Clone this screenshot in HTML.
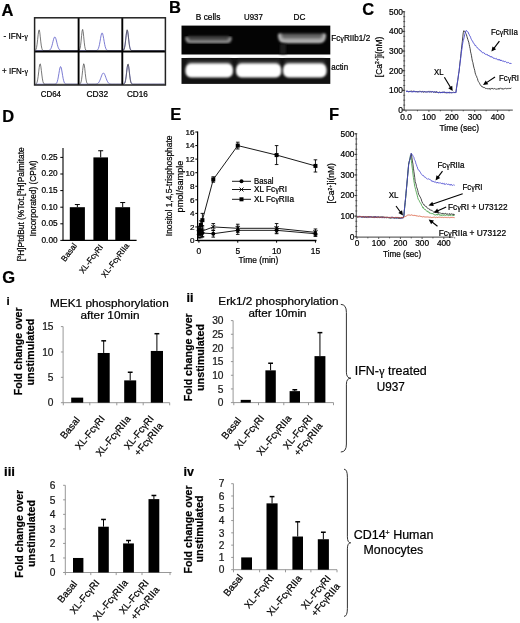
<!DOCTYPE html>
<html><head><meta charset="utf-8"><style>
html,body{margin:0;padding:0;background:#fff;}
svg{display:block;font-family:"Liberation Sans",sans-serif;will-change:transform;}
text{stroke:currentColor;stroke-width:0.22px;}
</style></head><body>
<svg width="520" height="623" viewBox="0 0 520 623">
<rect width="520" height="623" fill="#fff"/>
<text x="1.60" y="15.60" font-size="16.5" font-weight="bold">A</text>
<text x="169.00" y="13.20" font-size="16.5" font-weight="bold">B</text>
<text x="362.20" y="14.70" font-size="16.5" font-weight="bold">C</text>
<text x="2.20" y="122.00" font-size="16.5" font-weight="bold">D</text>
<text x="170.30" y="120.40" font-size="16.5" font-weight="bold">E</text>
<text x="329.00" y="120.20" font-size="16.5" font-weight="bold">F</text>
<text x="2.20" y="282.90" font-size="16.5" font-weight="bold">G</text>
<path d="M35.50,50.60 L36.03,50.60 L36.56,50.60 L37.09,50.60 L37.62,50.60 L38.16,50.60 L38.69,50.60 L39.22,50.60 L39.75,50.60 L40.28,50.60 L40.81,50.60 L41.34,50.60 L41.88,50.60 L42.41,50.60 L42.94,50.60 L43.47,50.60 L44.00,50.60 L44.53,50.60 L45.06,50.60 L45.59,50.60 L46.12,50.60 L46.66,50.60 L47.19,50.59 L47.72,50.57 L48.25,50.54 L48.78,50.45 L49.31,50.28 L49.84,49.97 L50.38,49.42 L50.91,48.56 L51.44,47.29 L51.97,45.61 L52.50,43.58 L53.03,41.40 L53.56,39.37 L54.09,37.82 L54.62,37.05 L55.16,37.21 L55.69,38.28 L56.22,40.03 L56.75,42.15 L57.28,44.30 L57.81,46.23 L58.34,47.77 L58.88,48.89 L59.41,49.64 L59.94,50.10 L60.47,50.36 L61.00,50.49 L61.53,50.55 L62.06,50.58 L62.59,50.59 L63.12,50.60 L63.66,50.60 L64.19,50.60 L64.72,50.60 L65.25,50.60 L65.78,50.60 L66.31,50.60 L66.84,50.60 L67.38,50.60 L67.91,50.60 L68.44,50.60 L68.97,50.60 L69.50,50.60 L70.03,50.60 L70.56,50.60 L71.09,50.60 L71.62,50.60 L72.16,50.60 L72.69,50.60 L73.22,50.60 L73.75,50.60 L74.28,50.60 L74.81,50.60 L75.34,50.60 L75.88,50.60 L76.41,50.60 L76.94,50.60 L77.47,50.60 L78.00,50.60" stroke="#5a5ac8" stroke-width="0.8" fill="none"/>
<path d="M35.50,50.15 L36.03,49.32 L36.56,47.50 L37.09,44.28 L37.62,39.67 L38.16,34.62 L38.69,30.82 L39.22,29.89 L39.75,32.24 L40.28,36.84 L40.81,41.87 L41.34,45.91 L41.88,48.47 L42.41,49.78 L42.94,50.33 L43.47,50.53 L44.00,50.58 L44.53,50.60 L45.06,50.60 L45.59,50.60 L46.12,50.60 L46.66,50.60 L47.19,50.60 L47.72,50.60 L48.25,50.60 L48.78,50.60 L49.31,50.60 L49.84,50.60 L50.38,50.60 L50.91,50.60 L51.44,50.60 L51.97,50.60 L52.50,50.60 L53.03,50.60 L53.56,50.60 L54.09,50.60 L54.62,50.60 L55.16,50.60 L55.69,50.60 L56.22,50.60 L56.75,50.60 L57.28,50.60 L57.81,50.60 L58.34,50.60 L58.88,50.60 L59.41,50.60 L59.94,50.60 L60.47,50.60 L61.00,50.60 L61.53,50.60 L62.06,50.60 L62.59,50.60 L63.12,50.60 L63.66,50.60 L64.19,50.60 L64.72,50.60 L65.25,50.60 L65.78,50.60 L66.31,50.60 L66.84,50.60 L67.38,50.60 L67.91,50.60 L68.44,50.60 L68.97,50.60 L69.50,50.60 L70.03,50.60 L70.56,50.60 L71.09,50.60 L71.62,50.60 L72.16,50.60 L72.69,50.60 L73.22,50.60 L73.75,50.60 L74.28,50.60 L74.81,50.60 L75.34,50.60 L75.88,50.60 L76.41,50.60 L76.94,50.60 L77.47,50.60 L78.00,50.60" stroke="#555" stroke-width="0.8" fill="none"/>
<path d="M79.50,50.60 L80.03,50.60 L80.55,50.60 L81.08,50.60 L81.60,50.60 L82.12,50.60 L82.65,50.60 L83.17,50.60 L83.70,50.60 L84.22,50.60 L84.75,50.60 L85.28,50.60 L85.80,50.60 L86.33,50.60 L86.85,50.60 L87.38,50.60 L87.90,50.60 L88.42,50.60 L88.95,50.60 L89.47,50.60 L90.00,50.60 L90.53,50.60 L91.05,50.60 L91.58,50.60 L92.10,50.60 L92.62,50.60 L93.15,50.60 L93.67,50.60 L94.20,50.60 L94.72,50.60 L95.25,50.59 L95.78,50.56 L96.30,50.50 L96.83,50.36 L97.35,50.06 L97.88,49.47 L98.40,48.46 L98.92,46.86 L99.45,44.61 L99.97,41.78 L100.50,38.68 L101.03,35.79 L101.55,33.71 L102.08,32.90 L102.60,33.57 L103.12,35.55 L103.65,38.38 L104.17,41.49 L104.70,44.36 L105.22,46.68 L105.75,48.33 L106.28,49.40 L106.80,50.01 L107.33,50.34 L107.85,50.49 L108.38,50.56 L108.90,50.59 L109.42,50.60 L109.95,50.60 L110.47,50.60 L111.00,50.60 L111.53,50.60 L112.05,50.60 L112.58,50.60 L113.10,50.60 L113.62,50.60 L114.15,50.60 L114.67,50.60 L115.20,50.60 L115.72,50.60 L116.25,50.60 L116.78,50.60 L117.30,50.60 L117.83,50.60 L118.35,50.60 L118.88,50.60 L119.40,50.60 L119.92,50.60 L120.45,50.60 L120.97,50.60 L121.50,50.60" stroke="#5a5ac8" stroke-width="0.8" fill="none"/>
<path d="M79.50,49.85 L80.03,48.48 L80.55,45.67 L81.08,41.15 L81.60,35.62 L82.12,31.00 L82.65,29.42 L83.17,31.70 L83.70,36.67 L84.22,42.13 L84.75,46.34 L85.28,48.83 L85.80,49.99 L86.33,50.43 L86.85,50.56 L87.38,50.59 L87.90,50.60 L88.42,50.60 L88.95,50.60 L89.47,50.60 L90.00,50.60 L90.53,50.60 L91.05,50.60 L91.58,50.60 L92.10,50.60 L92.62,50.60 L93.15,50.60 L93.67,50.60 L94.20,50.60 L94.72,50.60 L95.25,50.60 L95.78,50.60 L96.30,50.60 L96.83,50.60 L97.35,50.60 L97.88,50.60 L98.40,50.60 L98.92,50.60 L99.45,50.60 L99.97,50.60 L100.50,50.60 L101.03,50.60 L101.55,50.60 L102.08,50.60 L102.60,50.60 L103.12,50.60 L103.65,50.60 L104.17,50.60 L104.70,50.60 L105.22,50.60 L105.75,50.60 L106.28,50.60 L106.80,50.60 L107.33,50.60 L107.85,50.60 L108.38,50.60 L108.90,50.60 L109.42,50.60 L109.95,50.60 L110.47,50.60 L111.00,50.60 L111.53,50.60 L112.05,50.60 L112.58,50.60 L113.10,50.60 L113.62,50.60 L114.15,50.60 L114.67,50.60 L115.20,50.60 L115.72,50.60 L116.25,50.60 L116.78,50.60 L117.30,50.60 L117.83,50.60 L118.35,50.60 L118.88,50.60 L119.40,50.60 L119.92,50.60 L120.45,50.60 L120.97,50.60 L121.50,50.60" stroke="#555" stroke-width="0.8" fill="none"/>
<path d="M123.00,50.38 L123.52,49.97 L124.04,49.03 L124.56,47.22 L125.08,44.25 L125.59,40.19 L126.11,35.73 L126.63,32.09 L127.15,30.51 L127.67,31.60 L128.19,34.93 L128.71,39.33 L129.22,43.54 L129.74,46.74 L130.26,48.76 L130.78,49.84 L131.30,50.32 L131.82,50.51 L132.34,50.58 L132.86,50.59 L133.38,50.60 L133.89,50.60 L134.41,50.60 L134.93,50.60 L135.45,50.60 L135.97,50.60 L136.49,50.60 L137.01,50.60 L137.53,50.60 L138.04,50.60 L138.56,50.60 L139.08,50.60 L139.60,50.60 L140.12,50.60 L140.64,50.60 L141.16,50.60 L141.68,50.60 L142.19,50.60 L142.71,50.60 L143.23,50.60 L143.75,50.60 L144.27,50.60 L144.79,50.60 L145.31,50.60 L145.82,50.60 L146.34,50.60 L146.86,50.60 L147.38,50.60 L147.90,50.60 L148.42,50.60 L148.94,50.60 L149.46,50.60 L149.97,50.60 L150.49,50.60 L151.01,50.60 L151.53,50.60 L152.05,50.60 L152.57,50.60 L153.09,50.60 L153.61,50.60 L154.12,50.60 L154.64,50.60 L155.16,50.60 L155.68,50.60 L156.20,50.60 L156.72,50.60 L157.24,50.60 L157.76,50.60 L158.28,50.60 L158.79,50.60 L159.31,50.60 L159.83,50.60 L160.35,50.60 L160.87,50.60 L161.39,50.60 L161.91,50.60 L162.43,50.60 L162.94,50.60 L163.46,50.60 L163.98,50.60 L164.50,50.60" stroke="#5a5ac8" stroke-width="0.8" fill="none"/>
<path d="M123.00,50.49 L123.52,50.22 L124.04,49.52 L124.56,47.96 L125.08,45.11 L125.59,40.86 L126.11,35.87 L126.63,31.61 L127.15,29.72 L127.67,31.02 L128.19,34.94 L128.71,39.92 L129.22,44.39 L129.74,47.52 L130.26,49.30 L130.78,50.13 L131.30,50.46 L131.82,50.56 L132.34,50.59 L132.86,50.60 L133.38,50.60 L133.89,50.60 L134.41,50.60 L134.93,50.60 L135.45,50.60 L135.97,50.60 L136.49,50.60 L137.01,50.60 L137.53,50.60 L138.04,50.60 L138.56,50.60 L139.08,50.60 L139.60,50.60 L140.12,50.60 L140.64,50.60 L141.16,50.60 L141.68,50.60 L142.19,50.60 L142.71,50.60 L143.23,50.60 L143.75,50.60 L144.27,50.60 L144.79,50.60 L145.31,50.60 L145.82,50.60 L146.34,50.60 L146.86,50.60 L147.38,50.60 L147.90,50.60 L148.42,50.60 L148.94,50.60 L149.46,50.60 L149.97,50.60 L150.49,50.60 L151.01,50.60 L151.53,50.60 L152.05,50.60 L152.57,50.60 L153.09,50.60 L153.61,50.60 L154.12,50.60 L154.64,50.60 L155.16,50.60 L155.68,50.60 L156.20,50.60 L156.72,50.60 L157.24,50.60 L157.76,50.60 L158.28,50.60 L158.79,50.60 L159.31,50.60 L159.83,50.60 L160.35,50.60 L160.87,50.60 L161.39,50.60 L161.91,50.60 L162.43,50.60 L162.94,50.60 L163.46,50.60 L163.98,50.60 L164.50,50.60" stroke="#555" stroke-width="0.8" fill="none"/>
<path d="M35.50,84.20 L36.03,84.20 L36.56,84.20 L37.09,84.20 L37.62,84.20 L38.16,84.20 L38.69,84.20 L39.22,84.20 L39.75,84.20 L40.28,84.20 L40.81,84.20 L41.34,84.20 L41.88,84.20 L42.41,84.20 L42.94,84.20 L43.47,84.20 L44.00,84.20 L44.53,84.20 L45.06,84.20 L45.59,84.20 L46.12,84.20 L46.66,84.20 L47.19,84.20 L47.72,84.20 L48.25,84.20 L48.78,84.20 L49.31,84.20 L49.84,84.20 L50.38,84.20 L50.91,84.20 L51.44,84.20 L51.97,84.20 L52.50,84.20 L53.03,84.20 L53.56,84.20 L54.09,84.19 L54.62,84.16 L55.16,84.10 L55.69,83.93 L56.22,83.56 L56.75,82.85 L57.28,81.58 L57.81,79.61 L58.34,76.91 L58.88,73.68 L59.41,70.45 L59.94,67.89 L60.47,66.65 L61.00,67.08 L61.53,69.05 L62.06,72.04 L62.59,75.35 L63.12,78.36 L63.66,80.70 L64.19,82.30 L64.72,83.26 L65.25,83.78 L65.78,84.03 L66.31,84.14 L66.84,84.18 L67.38,84.19 L67.91,84.20 L68.44,84.20 L68.97,84.20 L69.50,84.20 L70.03,84.20 L70.56,84.20 L71.09,84.20 L71.62,84.20 L72.16,84.20 L72.69,84.20 L73.22,84.20 L73.75,84.20 L74.28,84.20 L74.81,84.20 L75.34,84.20 L75.88,84.20 L76.41,84.20 L76.94,84.20 L77.47,84.20 L78.00,84.20" stroke="#5a5ac8" stroke-width="0.8" fill="none"/>
<path d="M35.50,84.11 L36.03,83.90 L36.56,83.36 L37.09,82.16 L37.62,79.90 L38.16,76.38 L38.69,71.88 L39.22,67.38 L39.75,64.33 L40.28,63.87 L40.81,66.19 L41.34,70.38 L41.88,75.02 L42.41,78.92 L42.94,81.57 L43.47,83.07 L44.00,83.78 L44.53,84.06 L45.06,84.16 L45.59,84.19 L46.12,84.20 L46.66,84.20 L47.19,84.20 L47.72,84.20 L48.25,84.20 L48.78,84.20 L49.31,84.20 L49.84,84.20 L50.38,84.20 L50.91,84.20 L51.44,84.20 L51.97,84.20 L52.50,84.20 L53.03,84.20 L53.56,84.20 L54.09,84.20 L54.62,84.20 L55.16,84.20 L55.69,84.20 L56.22,84.20 L56.75,84.20 L57.28,84.20 L57.81,84.20 L58.34,84.20 L58.88,84.20 L59.41,84.20 L59.94,84.20 L60.47,84.20 L61.00,84.20 L61.53,84.20 L62.06,84.20 L62.59,84.20 L63.12,84.20 L63.66,84.20 L64.19,84.20 L64.72,84.20 L65.25,84.20 L65.78,84.20 L66.31,84.20 L66.84,84.20 L67.38,84.20 L67.91,84.20 L68.44,84.20 L68.97,84.20 L69.50,84.20 L70.03,84.20 L70.56,84.20 L71.09,84.20 L71.62,84.20 L72.16,84.20 L72.69,84.20 L73.22,84.20 L73.75,84.20 L74.28,84.20 L74.81,84.20 L75.34,84.20 L75.88,84.20 L76.41,84.20 L76.94,84.20 L77.47,84.20 L78.00,84.20" stroke="#555" stroke-width="0.8" fill="none"/>
<path d="M79.50,84.20 L80.03,84.20 L80.55,84.20 L81.08,84.20 L81.60,84.20 L82.12,84.20 L82.65,84.20 L83.17,84.20 L83.70,84.20 L84.22,84.20 L84.75,84.20 L85.28,84.20 L85.80,84.20 L86.33,84.20 L86.85,84.20 L87.38,84.20 L87.90,84.20 L88.42,84.20 L88.95,84.20 L89.47,84.20 L90.00,84.20 L90.53,84.20 L91.05,84.20 L91.58,84.20 L92.10,84.20 L92.62,84.20 L93.15,84.20 L93.67,84.20 L94.20,84.19 L94.72,84.18 L95.25,84.16 L95.78,84.13 L96.30,84.06 L96.83,83.94 L97.35,83.73 L97.88,83.41 L98.40,82.92 L98.92,82.23 L99.45,81.31 L99.97,80.15 L100.50,78.80 L101.03,77.34 L101.55,75.88 L102.08,74.58 L102.60,73.61 L103.12,73.07 L103.65,73.06 L104.17,73.57 L104.70,74.53 L105.22,75.81 L105.75,77.27 L106.28,78.73 L106.80,80.09 L107.33,81.26 L107.85,82.19 L108.38,82.89 L108.90,83.39 L109.42,83.72 L109.95,83.93 L110.47,84.05 L111.00,84.13 L111.53,84.16 L112.05,84.18 L112.58,84.19 L113.10,84.20 L113.62,84.20 L114.15,84.20 L114.67,84.20 L115.20,84.20 L115.72,84.20 L116.25,84.20 L116.78,84.20 L117.30,84.20 L117.83,84.20 L118.35,84.20 L118.88,84.20 L119.40,84.20 L119.92,84.20 L120.45,84.20 L120.97,84.20 L121.50,84.20" stroke="#5a5ac8" stroke-width="0.8" fill="none"/>
<path d="M79.50,84.11 L80.03,83.90 L80.55,83.30 L81.08,81.92 L81.60,79.30 L82.12,75.26 L82.65,70.34 L83.17,65.94 L83.70,63.76 L84.22,64.77 L84.75,68.50 L85.28,73.43 L85.80,77.92 L86.33,81.09 L86.85,82.89 L87.38,83.73 L87.90,84.06 L88.42,84.16 L88.95,84.19 L89.47,84.20 L90.00,84.20 L90.53,84.20 L91.05,84.20 L91.58,84.20 L92.10,84.20 L92.62,84.20 L93.15,84.20 L93.67,84.20 L94.20,84.20 L94.72,84.20 L95.25,84.20 L95.78,84.20 L96.30,84.20 L96.83,84.20 L97.35,84.20 L97.88,84.20 L98.40,84.20 L98.92,84.20 L99.45,84.20 L99.97,84.20 L100.50,84.20 L101.03,84.20 L101.55,84.20 L102.08,84.20 L102.60,84.20 L103.12,84.20 L103.65,84.20 L104.17,84.20 L104.70,84.20 L105.22,84.20 L105.75,84.20 L106.28,84.20 L106.80,84.20 L107.33,84.20 L107.85,84.20 L108.38,84.20 L108.90,84.20 L109.42,84.20 L109.95,84.20 L110.47,84.20 L111.00,84.20 L111.53,84.20 L112.05,84.20 L112.58,84.20 L113.10,84.20 L113.62,84.20 L114.15,84.20 L114.67,84.20 L115.20,84.20 L115.72,84.20 L116.25,84.20 L116.78,84.20 L117.30,84.20 L117.83,84.20 L118.35,84.20 L118.88,84.20 L119.40,84.20 L119.92,84.20 L120.45,84.20 L120.97,84.20 L121.50,84.20" stroke="#555" stroke-width="0.8" fill="none"/>
<path d="M123.00,84.17 L123.52,84.08 L124.04,83.84 L124.56,83.24 L125.08,81.98 L125.59,79.70 L126.11,76.26 L126.63,71.98 L127.15,67.82 L127.67,65.04 L128.19,64.68 L128.71,66.85 L129.22,70.77 L129.74,75.13 L130.26,78.86 L130.78,81.46 L131.30,82.98 L131.82,83.72 L132.34,84.04 L132.86,84.15 L133.38,84.19 L133.89,84.20 L134.41,84.20 L134.93,84.20 L135.45,84.20 L135.97,84.20 L136.49,84.20 L137.01,84.20 L137.53,84.20 L138.04,84.20 L138.56,84.20 L139.08,84.20 L139.60,84.20 L140.12,84.20 L140.64,84.20 L141.16,84.20 L141.68,84.20 L142.19,84.20 L142.71,84.20 L143.23,84.20 L143.75,84.20 L144.27,84.20 L144.79,84.20 L145.31,84.20 L145.82,84.20 L146.34,84.20 L146.86,84.20 L147.38,84.20 L147.90,84.20 L148.42,84.20 L148.94,84.20 L149.46,84.20 L149.97,84.20 L150.49,84.20 L151.01,84.20 L151.53,84.20 L152.05,84.20 L152.57,84.20 L153.09,84.20 L153.61,84.20 L154.12,84.20 L154.64,84.20 L155.16,84.20 L155.68,84.20 L156.20,84.20 L156.72,84.20 L157.24,84.20 L157.76,84.20 L158.28,84.20 L158.79,84.20 L159.31,84.20 L159.83,84.20 L160.35,84.20 L160.87,84.20 L161.39,84.20 L161.91,84.20 L162.43,84.20 L162.94,84.20 L163.46,84.20 L163.98,84.20 L164.50,84.20" stroke="#5a5ac8" stroke-width="0.8" fill="none"/>
<path d="M123.00,84.19 L123.52,84.15 L124.04,84.00 L124.56,83.59 L125.08,82.58 L125.59,80.52 L126.11,77.09 L126.63,72.48 L127.15,67.73 L127.67,64.45 L128.19,64.01 L128.71,66.60 L129.22,71.11 L129.74,75.90 L130.26,79.71 L130.78,82.13 L131.30,83.39 L131.82,83.93 L132.34,84.12 L132.86,84.18 L133.38,84.20 L133.89,84.20 L134.41,84.20 L134.93,84.20 L135.45,84.20 L135.97,84.20 L136.49,84.20 L137.01,84.20 L137.53,84.20 L138.04,84.20 L138.56,84.20 L139.08,84.20 L139.60,84.20 L140.12,84.20 L140.64,84.20 L141.16,84.20 L141.68,84.20 L142.19,84.20 L142.71,84.20 L143.23,84.20 L143.75,84.20 L144.27,84.20 L144.79,84.20 L145.31,84.20 L145.82,84.20 L146.34,84.20 L146.86,84.20 L147.38,84.20 L147.90,84.20 L148.42,84.20 L148.94,84.20 L149.46,84.20 L149.97,84.20 L150.49,84.20 L151.01,84.20 L151.53,84.20 L152.05,84.20 L152.57,84.20 L153.09,84.20 L153.61,84.20 L154.12,84.20 L154.64,84.20 L155.16,84.20 L155.68,84.20 L156.20,84.20 L156.72,84.20 L157.24,84.20 L157.76,84.20 L158.28,84.20 L158.79,84.20 L159.31,84.20 L159.83,84.20 L160.35,84.20 L160.87,84.20 L161.39,84.20 L161.91,84.20 L162.43,84.20 L162.94,84.20 L163.46,84.20 L163.98,84.20 L164.50,84.20" stroke="#555" stroke-width="0.8" fill="none"/>
<g stroke="#000" stroke-width="1.9" fill="none">
<line x1="78.6" y1="17.8" x2="78.6" y2="85"/>
<line x1="122.3" y1="17.8" x2="122.3" y2="85"/>
<line x1="34.6" y1="51.5" x2="165.4" y2="51.5"/>
</g>
<rect x="34.6" y="17.8" width="130.8" height="67.2" stroke="#222" stroke-width="1.5" fill="none"/>
<text x="3.40" y="38.60" font-size="8.6" textLength="24.6" lengthAdjust="spacingAndGlyphs">- IFN-<tspan font-family="Liberation Serif">γ</tspan></text>
<text x="2.10" y="73.80" font-size="8.6" textLength="25.9" lengthAdjust="spacingAndGlyphs">+ IFN-<tspan font-family="Liberation Serif">γ</tspan></text>
<text x="40.80" y="97.00" font-size="8.2" textLength="20.2" lengthAdjust="spacingAndGlyphs">CD64</text>
<text x="86.50" y="97.00" font-size="8.2" textLength="21.6" lengthAdjust="spacingAndGlyphs">CD32</text>
<text x="126.90" y="97.00" font-size="8.2" textLength="21" lengthAdjust="spacingAndGlyphs">CD16</text>
<defs><filter id="blur1" x="-20%" y="-60%" width="140%" height="220%"><feGaussianBlur stdDeviation="0.8"/></filter><filter id="blur2" x="-20%" y="-60%" width="140%" height="220%"><feGaussianBlur stdDeviation="0.85"/></filter><filter id="blur3" x="-20%" y="-60%" width="140%" height="220%"><feGaussianBlur stdDeviation="1.4"/></filter><linearGradient id="halo" x1="0" y1="0" x2="0" y2="1"><stop offset="0" stop-color="#151515"/><stop offset="1" stop-color="#6a6a6a"/></linearGradient><linearGradient id="halo2" x1="0" y1="0" x2="0" y2="1"><stop offset="0" stop-color="#101010"/><stop offset="1" stop-color="#555"/></linearGradient><linearGradient id="haloDC" x1="0" y1="0" x2="0" y2="1"><stop offset="0" stop-color="#505050"/><stop offset="1" stop-color="#8a8a8a"/></linearGradient></defs>
<rect x="181.50" y="25.60" width="148.80" height="28.90" fill="#040404"/>
<rect x="181.50" y="58.00" width="148.80" height="25.90" fill="#121212"/>
<rect x="188" y="36" width="41" height="5" fill="#404040" filter="url(#blur2)"/>
<path d="M186.9,38.2 Q187.3,41.6 190.5,41.6 L226.5,41.6 Q229.7,41.6 230.1,38.2" stroke="#8e8e8e" stroke-width="3.4" fill="none" filter="url(#blur1)" stroke-linecap="round"/>
<rect x="281" y="33.5" width="42" height="7.5" fill="url(#haloDC)" filter="url(#blur1)"/>
<path d="M279.9,35.3 Q280.3,41.2 284.5,41.2 L319.5,41.2 Q323.7,41.2 324.1,35.3" stroke="#b0b0b0" stroke-width="4.2" fill="none" filter="url(#blur1)" stroke-linecap="round"/>
<rect x="280" y="44" width="6" height="10" fill="#1c1c1c" filter="url(#blur3)"/>
<rect x="187.4" y="59.5" width="43.599999999999994" height="6.5" fill="url(#halo)" filter="url(#blur3)"/>
<rect x="185.4" y="63.6" width="47.599999999999994" height="14" rx="5.5" ry="6" fill="#fff" filter="url(#blur2)"/>
<rect x="238" y="59.5" width="41.30000000000001" height="6.5" fill="url(#halo)" filter="url(#blur3)"/>
<rect x="236" y="63.6" width="45.30000000000001" height="14" rx="5.5" ry="6" fill="#fff" filter="url(#blur2)"/>
<rect x="285" y="59.5" width="39.60000000000002" height="6.5" fill="url(#halo)" filter="url(#blur3)"/>
<rect x="283" y="63.6" width="43.60000000000002" height="14" rx="5.5" ry="6" fill="#fff" filter="url(#blur2)"/>
<text x="195.80" y="20.00" font-size="8.4" textLength="24.6" lengthAdjust="spacingAndGlyphs">B cells</text>
<text x="244.00" y="20.00" font-size="8.4" textLength="18.8" lengthAdjust="spacingAndGlyphs">U937</text>
<text x="293.50" y="20.00" font-size="8.4" textLength="11.9" lengthAdjust="spacingAndGlyphs">DC</text>
<text x="331.20" y="41.40" font-size="8.2" textLength="39" lengthAdjust="spacingAndGlyphs">Fc<tspan font-family="Liberation Serif">γ</tspan>RIIb1/2</text>
<text x="331.20" y="69.90" font-size="8.2" textLength="16.9" lengthAdjust="spacingAndGlyphs">actin</text>
<line x1="404.20" y1="11.20" x2="404.20" y2="110.60" stroke="#666" stroke-width="1.2"/>
<line x1="404.20" y1="110.10" x2="512.80" y2="110.10" stroke="#666" stroke-width="1.2"/>
<line x1="402.40" y1="110.00" x2="404.20" y2="110.00" stroke="#333" stroke-width="1"/>
<text x="403.00" y="112.90" font-size="8.5" text-anchor="end" textLength="4.7" lengthAdjust="spacingAndGlyphs">0</text>
<line x1="402.40" y1="90.35" x2="404.20" y2="90.35" stroke="#333" stroke-width="1"/>
<text x="403.00" y="93.25" font-size="8.5" text-anchor="end" textLength="14" lengthAdjust="spacingAndGlyphs">100</text>
<line x1="402.40" y1="70.70" x2="404.20" y2="70.70" stroke="#333" stroke-width="1"/>
<text x="403.00" y="73.60" font-size="8.5" text-anchor="end" textLength="14" lengthAdjust="spacingAndGlyphs">200</text>
<line x1="402.40" y1="51.05" x2="404.20" y2="51.05" stroke="#333" stroke-width="1"/>
<text x="403.00" y="53.95" font-size="8.5" text-anchor="end" textLength="14" lengthAdjust="spacingAndGlyphs">300</text>
<line x1="402.40" y1="31.40" x2="404.20" y2="31.40" stroke="#333" stroke-width="1"/>
<text x="403.00" y="34.30" font-size="8.5" text-anchor="end" textLength="14" lengthAdjust="spacingAndGlyphs">400</text>
<line x1="402.40" y1="11.75" x2="404.20" y2="11.75" stroke="#333" stroke-width="1"/>
<text x="403.00" y="14.65" font-size="8.5" text-anchor="end" textLength="14" lengthAdjust="spacingAndGlyphs">500</text>
<line x1="403.20" y1="110.00" x2="405.20" y2="110.00" stroke="#333" stroke-width="0.7"/>
<line x1="403.20" y1="105.09" x2="405.20" y2="105.09" stroke="#333" stroke-width="0.7"/>
<line x1="403.20" y1="100.17" x2="405.20" y2="100.17" stroke="#333" stroke-width="0.7"/>
<line x1="403.20" y1="95.26" x2="405.20" y2="95.26" stroke="#333" stroke-width="0.7"/>
<line x1="403.20" y1="90.35" x2="405.20" y2="90.35" stroke="#333" stroke-width="0.7"/>
<line x1="403.20" y1="85.44" x2="405.20" y2="85.44" stroke="#333" stroke-width="0.7"/>
<line x1="403.20" y1="80.53" x2="405.20" y2="80.53" stroke="#333" stroke-width="0.7"/>
<line x1="403.20" y1="75.61" x2="405.20" y2="75.61" stroke="#333" stroke-width="0.7"/>
<line x1="403.20" y1="70.70" x2="405.20" y2="70.70" stroke="#333" stroke-width="0.7"/>
<line x1="403.20" y1="65.79" x2="405.20" y2="65.79" stroke="#333" stroke-width="0.7"/>
<line x1="403.20" y1="60.88" x2="405.20" y2="60.88" stroke="#333" stroke-width="0.7"/>
<line x1="403.20" y1="55.96" x2="405.20" y2="55.96" stroke="#333" stroke-width="0.7"/>
<line x1="403.20" y1="51.05" x2="405.20" y2="51.05" stroke="#333" stroke-width="0.7"/>
<line x1="403.20" y1="46.14" x2="405.20" y2="46.14" stroke="#333" stroke-width="0.7"/>
<line x1="403.20" y1="41.22" x2="405.20" y2="41.22" stroke="#333" stroke-width="0.7"/>
<line x1="403.20" y1="36.31" x2="405.20" y2="36.31" stroke="#333" stroke-width="0.7"/>
<line x1="403.20" y1="31.40" x2="405.20" y2="31.40" stroke="#333" stroke-width="0.7"/>
<line x1="403.20" y1="26.49" x2="405.20" y2="26.49" stroke="#333" stroke-width="0.7"/>
<line x1="403.20" y1="21.58" x2="405.20" y2="21.58" stroke="#333" stroke-width="0.7"/>
<line x1="403.20" y1="16.66" x2="405.20" y2="16.66" stroke="#333" stroke-width="0.7"/>
<line x1="403.20" y1="11.75" x2="405.20" y2="11.75" stroke="#333" stroke-width="0.7"/>
<line x1="406.00" y1="110.10" x2="406.00" y2="111.90" stroke="#333" stroke-width="0.8"/>
<line x1="417.45" y1="110.10" x2="417.45" y2="111.30" stroke="#333" stroke-width="0.8"/>
<line x1="428.90" y1="110.10" x2="428.90" y2="111.90" stroke="#333" stroke-width="0.8"/>
<line x1="440.35" y1="110.10" x2="440.35" y2="111.30" stroke="#333" stroke-width="0.8"/>
<line x1="451.80" y1="110.10" x2="451.80" y2="111.90" stroke="#333" stroke-width="0.8"/>
<line x1="463.25" y1="110.10" x2="463.25" y2="111.30" stroke="#333" stroke-width="0.8"/>
<line x1="474.70" y1="110.10" x2="474.70" y2="111.90" stroke="#333" stroke-width="0.8"/>
<line x1="486.15" y1="110.10" x2="486.15" y2="111.30" stroke="#333" stroke-width="0.8"/>
<line x1="497.60" y1="110.10" x2="497.60" y2="111.90" stroke="#333" stroke-width="0.8"/>
<line x1="509.05" y1="110.10" x2="509.05" y2="111.30" stroke="#333" stroke-width="0.8"/>
<text x="406.00" y="119.80" font-size="8.3" text-anchor="middle">0.0</text>
<text x="428.90" y="119.80" font-size="8.3" text-anchor="middle">100</text>
<text x="451.80" y="119.80" font-size="8.3" text-anchor="middle">200</text>
<text x="474.70" y="119.80" font-size="8.3" text-anchor="middle">300</text>
<text x="497.60" y="119.80" font-size="8.3" text-anchor="middle">400</text>
<text x="439.50" y="130.80" font-size="8.4" textLength="39.6" lengthAdjust="spacingAndGlyphs">Time (sec)</text>
<text x="381.60" y="56.90" font-size="9.0" text-anchor="middle" textLength="40.5" lengthAdjust="spacingAndGlyphs" transform="rotate(-90 381.60 56.90)">[Ca<tspan dy="-2.4" font-size="5.2">2+</tspan><tspan dy="2.4">]i(nM)</tspan></text>
<path d="M406.00,91.64 L406.46,91.29 L406.92,91.51 L407.37,91.25 L407.83,91.23 L408.29,91.90 L408.75,91.98 L409.21,91.02 L409.66,91.71 L410.12,91.75 L410.58,90.87 L411.04,91.50 L411.50,91.08 L411.95,91.51 L412.41,91.33 L412.87,91.92 L413.33,91.36 L413.79,91.10 L414.24,91.52 L414.70,91.27 L415.16,91.37 L415.62,92.09 L416.08,91.29 L416.53,91.50 L416.99,91.85 L417.45,92.18 L417.91,91.21 L418.37,91.68 L418.82,91.40 L419.28,91.23 L419.74,91.43 L420.20,91.20 L420.66,91.83 L421.11,91.37 L421.57,91.80 L422.03,91.23 L422.49,91.31 L422.95,92.24 L423.40,92.21 L423.86,92.13 L424.32,91.26 L424.78,91.89 L425.24,91.68 L425.69,92.07 L426.15,91.84 L426.61,92.00 L427.07,92.05 L427.53,91.79 L427.98,91.80 L428.44,91.43 L428.90,91.71 L429.36,91.43 L429.82,91.53 L430.27,91.39 L430.73,91.78 L431.19,92.40 L431.65,91.59 L432.11,91.48 L432.56,91.57 L433.02,91.98 L433.48,91.83 L433.94,92.44 L434.40,91.72 L434.85,92.04 L435.31,92.40 L435.77,92.67 L436.23,91.76 L436.69,91.61 L437.14,92.69 L437.60,91.87 L438.06,92.34 L438.52,92.66 L438.98,92.51 L439.43,91.97 L439.89,91.86 L440.35,92.85 L440.81,92.20 L441.27,92.88 L441.72,92.10 L442.18,92.58 L442.64,91.94 L443.10,91.84 L443.56,92.42 L444.01,91.85 L444.47,92.68 L444.93,92.97 L445.39,92.37 L445.85,93.06 L446.30,92.88 L446.76,92.64 L447.22,92.42 L447.68,92.97 L448.14,93.12 L448.59,92.16 L449.05,92.83 L449.51,92.09 L449.97,92.18 L450.43,92.80 L450.88,92.72 L451.34,92.67 L451.80,92.54 L452.26,92.55 L452.72,92.55 L453.17,92.44 L453.63,92.01 L454.09,92.48 L454.55,92.53 L455.01,92.14 L455.46,92.67 L455.92,92.55 L456.38,88.66 L456.84,86.11 L457.30,82.99 L457.75,80.54 L458.21,76.98 L458.67,73.69 L459.13,71.27 L459.59,66.31 L460.04,62.03 L460.50,58.45 L460.96,53.52 L461.42,49.45 L461.88,44.94 L462.33,41.29 L462.79,36.84 L463.25,32.77 L463.71,30.75 L464.17,31.34 L464.62,31.25 L465.08,31.55 L465.54,33.02 L466.00,33.42 L466.46,34.74 L466.91,36.54 L467.37,37.97 L467.83,39.51 L468.29,40.93 L468.75,42.14 L469.20,44.42 L469.66,46.71 L470.12,48.63 L470.58,51.90 L471.04,53.64 L471.49,55.83 L471.95,58.71 L472.41,61.20 L472.87,62.44 L473.33,65.03 L473.78,67.01 L474.24,68.64 L474.70,70.25 L475.16,72.87 L475.62,74.35 L476.07,75.53 L476.53,76.13 L476.99,77.79 L477.45,78.49 L477.91,80.49 L478.36,81.49 L478.82,82.31 L479.28,82.65 L479.74,83.78 L480.20,84.67 L480.65,85.41 L481.11,85.54 L481.57,86.56 L482.03,86.45 L482.49,86.59 L482.94,87.54 L483.40,87.60 L483.86,87.15 L484.32,87.52 L484.78,87.50 L485.23,88.22 L485.69,88.65 L486.15,88.63 L486.61,88.10 L487.07,88.77 L487.52,88.74 L487.98,88.72 L488.44,88.77 L488.90,88.85 L489.36,88.30 L489.81,89.26 L490.27,89.50 L490.73,88.45 L491.19,88.52 L491.65,88.38 L492.10,89.03 L492.56,88.41 L493.02,88.43 L493.48,89.25 L493.94,88.63 L494.39,88.51 L494.85,88.71 L495.31,88.87 L495.77,89.14 L496.23,89.07 L496.68,89.19 L497.14,89.37 L497.60,88.75 L498.06,89.10 L498.52,88.48 L498.97,89.37 L499.43,88.35 L499.89,88.59 L500.35,88.31 L500.81,88.33 L501.26,88.32 L501.72,88.70 L502.18,89.35 L502.64,88.47 L503.10,89.13 L503.55,88.95 L504.01,88.51 L504.47,88.65 L504.93,88.76 L505.39,88.12 L505.84,88.49 L506.30,88.79 L506.76,88.87 L507.22,88.14 L507.68,88.57 L508.13,88.19 L508.59,88.68 L509.05,88.84 L509.51,88.42 L509.97,88.07 L510.42,88.81 L510.88,88.06 L511.34,87.89" stroke="#333" stroke-width="0.9" fill="none"/>
<path d="M406.00,90.97 L406.46,90.96 L406.92,91.94 L407.37,91.22 L407.83,90.95 L408.29,91.92 L408.75,91.67 L409.21,91.69 L409.66,91.39 L410.12,91.53 L410.58,91.48 L411.04,91.14 L411.50,92.06 L411.95,92.01 L412.41,91.94 L412.87,91.95 L413.33,92.03 L413.79,90.97 L414.24,91.13 L414.70,92.04 L415.16,91.57 L415.62,91.80 L416.08,91.81 L416.53,91.78 L416.99,91.44 L417.45,91.53 L417.91,91.80 L418.37,92.02 L418.82,91.86 L419.28,92.12 L419.74,91.62 L420.20,91.44 L420.66,91.85 L421.11,92.22 L421.57,92.11 L422.03,91.89 L422.49,91.63 L422.95,91.44 L423.40,91.92 L423.86,91.44 L424.32,91.66 L424.78,91.90 L425.24,91.98 L425.69,91.84 L426.15,91.61 L426.61,91.96 L427.07,91.65 L427.53,91.93 L427.98,92.20 L428.44,91.87 L428.90,91.69 L429.36,92.44 L429.82,92.04 L430.27,92.06 L430.73,91.54 L431.19,91.49 L431.65,92.16 L432.11,91.56 L432.56,91.70 L433.02,92.34 L433.48,92.12 L433.94,92.54 L434.40,91.74 L434.85,91.94 L435.31,91.69 L435.77,91.81 L436.23,91.98 L436.69,91.91 L437.14,92.13 L437.60,92.69 L438.06,92.13 L438.52,92.84 L438.98,92.69 L439.43,91.96 L439.89,92.84 L440.35,92.80 L440.81,92.80 L441.27,91.90 L441.72,92.74 L442.18,92.94 L442.64,91.99 L443.10,92.86 L443.56,92.02 L444.01,92.24 L444.47,92.06 L444.93,91.94 L445.39,92.39 L445.85,92.15 L446.30,93.07 L446.76,92.22 L447.22,92.54 L447.68,92.31 L448.14,93.05 L448.59,92.30 L449.05,92.10 L449.51,93.15 L449.97,92.85 L450.43,92.59 L450.88,92.29 L451.34,93.00 L451.80,93.09 L452.26,92.96 L452.72,92.48 L453.17,92.28 L453.63,92.66 L454.09,92.65 L454.55,92.57 L455.01,92.58 L455.46,92.46 L455.92,92.81 L456.38,89.23 L456.84,85.58 L457.30,83.15 L457.75,79.67 L458.21,77.28 L458.67,73.56 L459.13,70.40 L459.59,66.85 L460.04,63.38 L460.50,59.77 L460.96,55.93 L461.42,51.99 L461.88,49.22 L462.33,45.63 L462.79,42.85 L463.25,40.63 L463.71,39.08 L464.17,37.15 L464.62,34.81 L465.08,33.42 L465.54,31.31 L466.00,30.60 L466.46,30.58 L466.91,31.33 L467.37,31.87 L467.83,31.76 L468.29,32.37 L468.75,34.06 L469.20,34.50 L469.66,35.76 L470.12,36.16 L470.58,37.39 L471.04,38.68 L471.49,39.59 L471.95,40.61 L472.41,40.86 L472.87,41.76 L473.33,42.79 L473.78,43.35 L474.24,44.19 L474.70,44.44 L475.16,45.73 L475.62,45.28 L476.07,46.44 L476.53,46.85 L476.99,47.55 L477.45,47.67 L477.91,48.23 L478.36,49.02 L478.82,49.50 L479.28,49.61 L479.74,49.84 L480.20,50.77 L480.65,50.77 L481.11,50.90 L481.57,51.87 L482.03,52.48 L482.49,52.72 L482.94,52.40 L483.40,52.69 L483.86,52.61 L484.32,52.98 L484.78,53.95 L485.23,54.26 L485.69,54.43 L486.15,54.76 L486.61,54.37 L487.07,54.40 L487.52,54.57 L487.98,55.54 L488.44,55.04 L488.90,55.91 L489.36,55.99 L489.81,55.85 L490.27,56.82 L490.73,57.03 L491.19,56.37 L491.65,57.21 L492.10,57.34 L492.56,57.28 L493.02,57.38 L493.48,58.37 L493.94,58.19 L494.39,58.28 L494.85,58.43 L495.31,58.93 L495.77,58.64 L496.23,58.36 L496.68,59.18 L497.14,59.15 L497.60,59.80 L498.06,59.77 L498.52,59.46 L498.97,60.27 L499.43,59.51 L499.89,59.63 L500.35,60.74 L500.81,59.90 L501.26,60.72 L501.72,60.40 L502.18,60.57 L502.64,61.25 L503.10,60.94 L503.55,61.11 L504.01,61.06 L504.47,61.84 L504.93,61.40 L505.39,61.29 L505.84,61.77 L506.30,62.07 L506.76,62.71 L507.22,62.40 L507.68,62.70 L508.13,62.41 L508.59,62.59 L509.05,62.86 L509.51,63.45 L509.97,63.04 L510.42,63.20 L510.88,63.87 L511.34,63.17" stroke="#4a4ad0" stroke-width="0.9" fill="none"/>
<text x="434.00" y="75.20" font-size="8.2" textLength="9.5" lengthAdjust="spacingAndGlyphs">XL</text>
<line x1="444.40" y1="77.30" x2="450.72" y2="87.81" stroke="#000" stroke-width="1.15"/>
<path d="M452.70,91.10 L452.20,85.80 L448.25,88.17 Z" fill="#000"/>
<text x="491.00" y="35.30" font-size="8.2" textLength="26.8" lengthAdjust="spacingAndGlyphs">Fc<tspan font-family="Liberation Serif">γ</tspan>RIIa</text>
<line x1="499.40" y1="41.20" x2="493.74" y2="48.56" stroke="#000" stroke-width="1.15"/>
<path d="M491.40,51.60 L496.15,49.20 L492.50,46.39 Z" fill="#000"/>
<text x="499.00" y="80.80" font-size="8.2" textLength="20" lengthAdjust="spacingAndGlyphs">Fc<tspan font-family="Liberation Serif">γ</tspan>RI</text>
<line x1="495.00" y1="77.00" x2="486.20" y2="82.87" stroke="#000" stroke-width="1.15"/>
<path d="M483.00,85.00 L488.27,84.25 L485.72,80.42 Z" fill="#000"/>
<line x1="63.00" y1="147.90" x2="63.00" y2="240.90" stroke="#000" stroke-width="1.1"/>
<line x1="62.50" y1="240.40" x2="136.60" y2="240.40" stroke="#000" stroke-width="1.1"/>
<line x1="60.30" y1="240.40" x2="63.00" y2="240.40" stroke="#000" stroke-width="1"/>
<text x="57.60" y="242.80" font-size="8.4" text-anchor="end" textLength="16.1" lengthAdjust="spacingAndGlyphs">0.00</text>
<line x1="60.30" y1="223.80" x2="63.00" y2="223.80" stroke="#000" stroke-width="1"/>
<text x="57.60" y="226.20" font-size="8.4" text-anchor="end" textLength="16.1" lengthAdjust="spacingAndGlyphs">0.05</text>
<line x1="60.30" y1="207.20" x2="63.00" y2="207.20" stroke="#000" stroke-width="1"/>
<text x="57.60" y="209.60" font-size="8.4" text-anchor="end" textLength="16.1" lengthAdjust="spacingAndGlyphs">0.10</text>
<line x1="60.30" y1="190.60" x2="63.00" y2="190.60" stroke="#000" stroke-width="1"/>
<text x="57.60" y="193.00" font-size="8.4" text-anchor="end" textLength="16.1" lengthAdjust="spacingAndGlyphs">0.15</text>
<line x1="60.30" y1="174.00" x2="63.00" y2="174.00" stroke="#000" stroke-width="1"/>
<text x="57.60" y="176.40" font-size="8.4" text-anchor="end" textLength="16.1" lengthAdjust="spacingAndGlyphs">0.20</text>
<line x1="60.30" y1="157.40" x2="63.00" y2="157.40" stroke="#000" stroke-width="1"/>
<text x="57.60" y="159.80" font-size="8.4" text-anchor="end" textLength="16.1" lengthAdjust="spacingAndGlyphs">0.25</text>
<rect x="69.80" y="207.20" width="15.10" height="33.20" fill="#000"/>
<line x1="77.35" y1="207.20" x2="77.35" y2="204.54" stroke="#000" stroke-width="1"/>
<line x1="74.85" y1="204.54" x2="79.85" y2="204.54" stroke="#000" stroke-width="1"/>
<rect x="93.40" y="157.40" width="14.60" height="83.00" fill="#000"/>
<line x1="100.70" y1="157.40" x2="100.70" y2="150.76" stroke="#000" stroke-width="1"/>
<line x1="98.20" y1="150.76" x2="103.20" y2="150.76" stroke="#000" stroke-width="1"/>
<rect x="115.30" y="207.20" width="14.80" height="33.20" fill="#000"/>
<line x1="122.70" y1="207.20" x2="122.70" y2="202.55" stroke="#000" stroke-width="1"/>
<line x1="120.20" y1="202.55" x2="125.20" y2="202.55" stroke="#000" stroke-width="1"/>
<text x="77.40" y="245.80" font-size="8.2" text-anchor="end" transform="rotate(-53 77.40 245.80)">Basal</text>
<text x="103.40" y="247.20" font-size="8.2" text-anchor="end" transform="rotate(-53 103.40 247.20)">XL-Fc<tspan font-family="Liberation Serif">γ</tspan>RI</text>
<text x="129.60" y="245.80" font-size="8.2" text-anchor="end" transform="rotate(-53 129.60 245.80)">XL-Fc<tspan font-family="Liberation Serif">γ</tspan>RIIa</text>
<text x="23.80" y="204.30" font-size="8.5" text-anchor="middle" textLength="113.9" lengthAdjust="spacingAndGlyphs" transform="rotate(-90 23.80 204.30)">[<tspan dy="-2.6" font-size="5.5">3</tspan><tspan dy="2.6">H]PtdBut (%Tot.[</tspan><tspan dy="-2.6" font-size="5.5">3</tspan><tspan dy="2.6">H]Palmitate</tspan></text>
<text x="35.80" y="198.40" font-size="8.4" text-anchor="middle" textLength="76" lengthAdjust="spacingAndGlyphs" transform="rotate(-90 35.80 198.40)">Incorporated) (CPM)</text>
<line x1="197.60" y1="131.50" x2="197.60" y2="241.00" stroke="#000" stroke-width="1.2"/>
<line x1="197.10" y1="240.50" x2="316.50" y2="240.50" stroke="#000" stroke-width="1.3"/>
<line x1="195.30" y1="240.50" x2="197.60" y2="240.50" stroke="#000" stroke-width="1"/>
<text x="194.60" y="243.40" font-size="8.1" text-anchor="end">0</text>
<line x1="195.30" y1="226.94" x2="197.60" y2="226.94" stroke="#000" stroke-width="1"/>
<text x="194.60" y="229.84" font-size="8.1" text-anchor="end">2</text>
<line x1="195.30" y1="213.38" x2="197.60" y2="213.38" stroke="#000" stroke-width="1"/>
<text x="194.60" y="216.28" font-size="8.1" text-anchor="end">4</text>
<line x1="195.30" y1="199.82" x2="197.60" y2="199.82" stroke="#000" stroke-width="1"/>
<text x="194.60" y="202.72" font-size="8.1" text-anchor="end">6</text>
<line x1="195.30" y1="186.26" x2="197.60" y2="186.26" stroke="#000" stroke-width="1"/>
<text x="194.60" y="189.16" font-size="8.1" text-anchor="end">8</text>
<line x1="195.30" y1="172.70" x2="197.60" y2="172.70" stroke="#000" stroke-width="1"/>
<text x="194.60" y="175.60" font-size="8.1" text-anchor="end">10</text>
<line x1="195.30" y1="159.14" x2="197.60" y2="159.14" stroke="#000" stroke-width="1"/>
<text x="194.60" y="162.04" font-size="8.1" text-anchor="end">12</text>
<line x1="195.30" y1="145.58" x2="197.60" y2="145.58" stroke="#000" stroke-width="1"/>
<text x="194.60" y="148.48" font-size="8.1" text-anchor="end">14</text>
<line x1="195.30" y1="132.02" x2="197.60" y2="132.02" stroke="#000" stroke-width="1"/>
<text x="194.60" y="134.92" font-size="8.1" text-anchor="end">16</text>
<line x1="198.90" y1="240.50" x2="198.90" y2="242.70" stroke="#000" stroke-width="1"/>
<text x="198.90" y="254.00" font-size="8.4" text-anchor="middle">0</text>
<line x1="237.75" y1="240.50" x2="237.75" y2="242.70" stroke="#000" stroke-width="1"/>
<text x="237.75" y="254.00" font-size="8.4" text-anchor="middle">5</text>
<line x1="276.60" y1="240.50" x2="276.60" y2="242.70" stroke="#000" stroke-width="1"/>
<text x="276.60" y="254.00" font-size="8.4" text-anchor="middle">10</text>
<line x1="315.45" y1="240.50" x2="315.45" y2="242.70" stroke="#000" stroke-width="1"/>
<text x="315.45" y="254.00" font-size="8.4" text-anchor="middle">15</text>
<text x="238.50" y="262.80" font-size="8.4" textLength="39.8" lengthAdjust="spacingAndGlyphs">Time (min)</text>
<text x="172.30" y="185.90" font-size="8.4" text-anchor="middle" textLength="100.6" lengthAdjust="spacingAndGlyphs" transform="rotate(-90 172.30 185.90)">Inositol 1,4,5-trisphosphate</text>
<text x="182.70" y="186.50" font-size="8.8" text-anchor="middle" textLength="51.9" lengthAdjust="spacingAndGlyphs" transform="rotate(-90 182.70 186.50)">pmol/sample</text>
<path d="M198.90,233.72 L200.84,233.72 L202.40,233.04 L213.27,233.72 L237.75,230.33 L276.60,230.33 L315.45,233.72" stroke="#000" stroke-width="0.9" fill="none"/>
<line x1="198.90" y1="237.79" x2="198.90" y2="229.65" stroke="#000" stroke-width="0.9"/>
<line x1="197.10" y1="237.79" x2="200.70" y2="237.79" stroke="#000" stroke-width="0.9"/>
<line x1="197.10" y1="229.65" x2="200.70" y2="229.65" stroke="#000" stroke-width="0.9"/>
<circle cx="198.90" cy="233.72" r="2" fill="#000"/>
<line x1="200.84" y1="237.79" x2="200.84" y2="229.65" stroke="#000" stroke-width="0.9"/>
<line x1="199.04" y1="237.79" x2="202.64" y2="237.79" stroke="#000" stroke-width="0.9"/>
<line x1="199.04" y1="229.65" x2="202.64" y2="229.65" stroke="#000" stroke-width="0.9"/>
<circle cx="200.84" cy="233.72" r="2" fill="#000"/>
<line x1="202.40" y1="237.11" x2="202.40" y2="228.97" stroke="#000" stroke-width="0.9"/>
<line x1="200.60" y1="237.11" x2="204.20" y2="237.11" stroke="#000" stroke-width="0.9"/>
<line x1="200.60" y1="228.97" x2="204.20" y2="228.97" stroke="#000" stroke-width="0.9"/>
<circle cx="202.40" cy="233.04" r="2" fill="#000"/>
<line x1="213.27" y1="237.11" x2="213.27" y2="230.33" stroke="#000" stroke-width="0.9"/>
<line x1="211.47" y1="237.11" x2="215.07" y2="237.11" stroke="#000" stroke-width="0.9"/>
<line x1="211.47" y1="230.33" x2="215.07" y2="230.33" stroke="#000" stroke-width="0.9"/>
<circle cx="213.27" cy="233.72" r="2" fill="#000"/>
<line x1="237.75" y1="234.40" x2="237.75" y2="226.26" stroke="#000" stroke-width="0.9"/>
<line x1="235.95" y1="234.40" x2="239.55" y2="234.40" stroke="#000" stroke-width="0.9"/>
<line x1="235.95" y1="226.26" x2="239.55" y2="226.26" stroke="#000" stroke-width="0.9"/>
<circle cx="237.75" cy="230.33" r="2" fill="#000"/>
<line x1="276.60" y1="233.72" x2="276.60" y2="226.94" stroke="#000" stroke-width="0.9"/>
<line x1="274.80" y1="233.72" x2="278.40" y2="233.72" stroke="#000" stroke-width="0.9"/>
<line x1="274.80" y1="226.94" x2="278.40" y2="226.94" stroke="#000" stroke-width="0.9"/>
<circle cx="276.60" cy="230.33" r="2" fill="#000"/>
<line x1="315.45" y1="236.43" x2="315.45" y2="231.01" stroke="#000" stroke-width="0.9"/>
<line x1="313.65" y1="236.43" x2="317.25" y2="236.43" stroke="#000" stroke-width="0.9"/>
<line x1="313.65" y1="231.01" x2="317.25" y2="231.01" stroke="#000" stroke-width="0.9"/>
<circle cx="315.45" cy="233.72" r="2" fill="#000"/>
<path d="M198.90,232.36 L200.84,230.33 L202.40,231.01 L213.27,226.94 L237.75,228.30 L276.60,228.30 L315.45,232.36" stroke="#000" stroke-width="0.9" fill="none"/>
<line x1="198.90" y1="237.79" x2="198.90" y2="226.94" stroke="#000" stroke-width="0.9"/>
<line x1="197.10" y1="237.79" x2="200.70" y2="237.79" stroke="#000" stroke-width="0.9"/>
<line x1="197.10" y1="226.94" x2="200.70" y2="226.94" stroke="#000" stroke-width="0.9"/>
<line x1="196.90" y1="230.36" x2="200.90" y2="234.36" stroke="#000" stroke-width="0.9"/>
<line x1="196.90" y1="234.36" x2="200.90" y2="230.36" stroke="#000" stroke-width="0.9"/>
<line x1="200.84" y1="235.08" x2="200.84" y2="225.58" stroke="#000" stroke-width="0.9"/>
<line x1="199.04" y1="235.08" x2="202.64" y2="235.08" stroke="#000" stroke-width="0.9"/>
<line x1="199.04" y1="225.58" x2="202.64" y2="225.58" stroke="#000" stroke-width="0.9"/>
<line x1="198.84" y1="228.33" x2="202.84" y2="232.33" stroke="#000" stroke-width="0.9"/>
<line x1="198.84" y1="232.33" x2="202.84" y2="228.33" stroke="#000" stroke-width="0.9"/>
<line x1="202.40" y1="236.43" x2="202.40" y2="225.58" stroke="#000" stroke-width="0.9"/>
<line x1="200.60" y1="236.43" x2="204.20" y2="236.43" stroke="#000" stroke-width="0.9"/>
<line x1="200.60" y1="225.58" x2="204.20" y2="225.58" stroke="#000" stroke-width="0.9"/>
<line x1="200.40" y1="229.01" x2="204.40" y2="233.01" stroke="#000" stroke-width="0.9"/>
<line x1="200.40" y1="233.01" x2="204.40" y2="229.01" stroke="#000" stroke-width="0.9"/>
<line x1="213.27" y1="230.33" x2="213.27" y2="223.55" stroke="#000" stroke-width="0.9"/>
<line x1="211.47" y1="230.33" x2="215.07" y2="230.33" stroke="#000" stroke-width="0.9"/>
<line x1="211.47" y1="223.55" x2="215.07" y2="223.55" stroke="#000" stroke-width="0.9"/>
<line x1="211.27" y1="224.94" x2="215.27" y2="228.94" stroke="#000" stroke-width="0.9"/>
<line x1="211.27" y1="228.94" x2="215.27" y2="224.94" stroke="#000" stroke-width="0.9"/>
<line x1="237.75" y1="232.36" x2="237.75" y2="224.23" stroke="#000" stroke-width="0.9"/>
<line x1="235.95" y1="232.36" x2="239.55" y2="232.36" stroke="#000" stroke-width="0.9"/>
<line x1="235.95" y1="224.23" x2="239.55" y2="224.23" stroke="#000" stroke-width="0.9"/>
<line x1="235.75" y1="226.30" x2="239.75" y2="230.30" stroke="#000" stroke-width="0.9"/>
<line x1="235.75" y1="230.30" x2="239.75" y2="226.30" stroke="#000" stroke-width="0.9"/>
<line x1="276.60" y1="233.04" x2="276.60" y2="223.55" stroke="#000" stroke-width="0.9"/>
<line x1="274.80" y1="233.04" x2="278.40" y2="233.04" stroke="#000" stroke-width="0.9"/>
<line x1="274.80" y1="223.55" x2="278.40" y2="223.55" stroke="#000" stroke-width="0.9"/>
<line x1="274.60" y1="226.30" x2="278.60" y2="230.30" stroke="#000" stroke-width="0.9"/>
<line x1="274.60" y1="230.30" x2="278.60" y2="226.30" stroke="#000" stroke-width="0.9"/>
<line x1="315.45" y1="235.75" x2="315.45" y2="228.97" stroke="#000" stroke-width="0.9"/>
<line x1="313.65" y1="235.75" x2="317.25" y2="235.75" stroke="#000" stroke-width="0.9"/>
<line x1="313.65" y1="228.97" x2="317.25" y2="228.97" stroke="#000" stroke-width="0.9"/>
<line x1="313.45" y1="230.36" x2="317.45" y2="234.36" stroke="#000" stroke-width="0.9"/>
<line x1="313.45" y1="234.36" x2="317.45" y2="230.36" stroke="#000" stroke-width="0.9"/>
<path d="M198.90,230.33 L200.84,224.91 L202.40,220.16 L213.27,179.48 L237.75,145.58 L276.60,155.07 L315.45,165.92" stroke="#000" stroke-width="0.9" fill="none"/>
<line x1="198.90" y1="234.40" x2="198.90" y2="226.26" stroke="#000" stroke-width="0.9"/>
<line x1="197.10" y1="234.40" x2="200.70" y2="234.40" stroke="#000" stroke-width="0.9"/>
<line x1="197.10" y1="226.26" x2="200.70" y2="226.26" stroke="#000" stroke-width="0.9"/>
<rect x="196.90" y="228.33" width="4.00" height="4.00" fill="#000"/>
<line x1="200.84" y1="228.97" x2="200.84" y2="220.84" stroke="#000" stroke-width="0.9"/>
<line x1="199.04" y1="228.97" x2="202.64" y2="228.97" stroke="#000" stroke-width="0.9"/>
<line x1="199.04" y1="220.84" x2="202.64" y2="220.84" stroke="#000" stroke-width="0.9"/>
<rect x="198.84" y="222.91" width="4.00" height="4.00" fill="#000"/>
<line x1="202.40" y1="226.94" x2="202.40" y2="213.38" stroke="#000" stroke-width="0.9"/>
<line x1="200.60" y1="226.94" x2="204.20" y2="226.94" stroke="#000" stroke-width="0.9"/>
<line x1="200.60" y1="213.38" x2="204.20" y2="213.38" stroke="#000" stroke-width="0.9"/>
<rect x="200.40" y="218.16" width="4.00" height="4.00" fill="#000"/>
<line x1="213.27" y1="182.19" x2="213.27" y2="176.77" stroke="#000" stroke-width="0.9"/>
<line x1="211.47" y1="182.19" x2="215.07" y2="182.19" stroke="#000" stroke-width="0.9"/>
<line x1="211.47" y1="176.77" x2="215.07" y2="176.77" stroke="#000" stroke-width="0.9"/>
<rect x="211.27" y="177.48" width="4.00" height="4.00" fill="#000"/>
<line x1="237.75" y1="148.97" x2="237.75" y2="142.19" stroke="#000" stroke-width="0.9"/>
<line x1="235.95" y1="148.97" x2="239.55" y2="148.97" stroke="#000" stroke-width="0.9"/>
<line x1="235.95" y1="142.19" x2="239.55" y2="142.19" stroke="#000" stroke-width="0.9"/>
<rect x="235.75" y="143.58" width="4.00" height="4.00" fill="#000"/>
<line x1="276.60" y1="164.56" x2="276.60" y2="145.58" stroke="#000" stroke-width="0.9"/>
<line x1="274.80" y1="164.56" x2="278.40" y2="164.56" stroke="#000" stroke-width="0.9"/>
<line x1="274.80" y1="145.58" x2="278.40" y2="145.58" stroke="#000" stroke-width="0.9"/>
<rect x="274.60" y="153.07" width="4.00" height="4.00" fill="#000"/>
<line x1="315.45" y1="172.02" x2="315.45" y2="159.82" stroke="#000" stroke-width="0.9"/>
<line x1="313.65" y1="172.02" x2="317.25" y2="172.02" stroke="#000" stroke-width="0.9"/>
<line x1="313.65" y1="159.82" x2="317.25" y2="159.82" stroke="#000" stroke-width="0.9"/>
<rect x="313.45" y="163.92" width="4.00" height="4.00" fill="#000"/>
<line x1="232.00" y1="181.30" x2="251.00" y2="181.30" stroke="#000" stroke-width="0.9"/>
<circle cx="241.5" cy="181.3" r="2" fill="#000"/>
<line x1="232.00" y1="189.50" x2="251.00" y2="189.50" stroke="#000" stroke-width="0.9"/>
<line x1="239.50" y1="187.50" x2="243.50" y2="191.50" stroke="#000" stroke-width="0.9"/>
<line x1="239.50" y1="191.50" x2="243.50" y2="187.50" stroke="#000" stroke-width="0.9"/>
<line x1="232.00" y1="199.30" x2="251.00" y2="199.30" stroke="#000" stroke-width="0.9"/>
<rect x="239.50" y="197.30" width="4.00" height="4.00" fill="#000"/>
<text x="254.00" y="184.30" font-size="8.2" textLength="19.5" lengthAdjust="spacingAndGlyphs">Basal</text>
<text x="254.00" y="191.80" font-size="8.2" textLength="33" lengthAdjust="spacingAndGlyphs">XL Fc<tspan font-family="Liberation Serif">γ</tspan>RI</text>
<text x="254.00" y="201.70" font-size="8.2" textLength="40" lengthAdjust="spacingAndGlyphs">XL Fc<tspan font-family="Liberation Serif">γ</tspan>RIIa</text>
<line x1="356.30" y1="133.30" x2="356.30" y2="237.70" stroke="#666" stroke-width="1.2"/>
<line x1="356.30" y1="237.20" x2="453.50" y2="237.20" stroke="#666" stroke-width="1.2"/>
<line x1="354.50" y1="236.70" x2="356.30" y2="236.70" stroke="#333" stroke-width="1"/>
<text x="354.40" y="239.60" font-size="8.4" text-anchor="end" textLength="4.7" lengthAdjust="spacingAndGlyphs">0</text>
<line x1="354.50" y1="216.12" x2="356.30" y2="216.12" stroke="#333" stroke-width="1"/>
<text x="354.40" y="219.02" font-size="8.4" text-anchor="end" textLength="13.9" lengthAdjust="spacingAndGlyphs">100</text>
<line x1="354.50" y1="195.54" x2="356.30" y2="195.54" stroke="#333" stroke-width="1"/>
<text x="354.40" y="198.44" font-size="8.4" text-anchor="end" textLength="13.9" lengthAdjust="spacingAndGlyphs">200</text>
<line x1="354.50" y1="174.96" x2="356.30" y2="174.96" stroke="#333" stroke-width="1"/>
<text x="354.40" y="177.86" font-size="8.4" text-anchor="end" textLength="13.9" lengthAdjust="spacingAndGlyphs">300</text>
<line x1="354.50" y1="154.38" x2="356.30" y2="154.38" stroke="#333" stroke-width="1"/>
<text x="354.40" y="157.28" font-size="8.4" text-anchor="end" textLength="13.9" lengthAdjust="spacingAndGlyphs">400</text>
<line x1="354.50" y1="133.80" x2="356.30" y2="133.80" stroke="#333" stroke-width="1"/>
<text x="354.40" y="136.70" font-size="8.4" text-anchor="end" textLength="13.9" lengthAdjust="spacingAndGlyphs">500</text>
<line x1="355.30" y1="236.70" x2="357.30" y2="236.70" stroke="#333" stroke-width="0.7"/>
<line x1="355.30" y1="231.55" x2="357.30" y2="231.55" stroke="#333" stroke-width="0.7"/>
<line x1="355.30" y1="226.41" x2="357.30" y2="226.41" stroke="#333" stroke-width="0.7"/>
<line x1="355.30" y1="221.26" x2="357.30" y2="221.26" stroke="#333" stroke-width="0.7"/>
<line x1="355.30" y1="216.12" x2="357.30" y2="216.12" stroke="#333" stroke-width="0.7"/>
<line x1="355.30" y1="210.97" x2="357.30" y2="210.97" stroke="#333" stroke-width="0.7"/>
<line x1="355.30" y1="205.83" x2="357.30" y2="205.83" stroke="#333" stroke-width="0.7"/>
<line x1="355.30" y1="200.69" x2="357.30" y2="200.69" stroke="#333" stroke-width="0.7"/>
<line x1="355.30" y1="195.54" x2="357.30" y2="195.54" stroke="#333" stroke-width="0.7"/>
<line x1="355.30" y1="190.39" x2="357.30" y2="190.39" stroke="#333" stroke-width="0.7"/>
<line x1="355.30" y1="185.25" x2="357.30" y2="185.25" stroke="#333" stroke-width="0.7"/>
<line x1="355.30" y1="180.10" x2="357.30" y2="180.10" stroke="#333" stroke-width="0.7"/>
<line x1="355.30" y1="174.96" x2="357.30" y2="174.96" stroke="#333" stroke-width="0.7"/>
<line x1="355.30" y1="169.81" x2="357.30" y2="169.81" stroke="#333" stroke-width="0.7"/>
<line x1="355.30" y1="164.67" x2="357.30" y2="164.67" stroke="#333" stroke-width="0.7"/>
<line x1="355.30" y1="159.52" x2="357.30" y2="159.52" stroke="#333" stroke-width="0.7"/>
<line x1="355.30" y1="154.38" x2="357.30" y2="154.38" stroke="#333" stroke-width="0.7"/>
<line x1="355.30" y1="149.23" x2="357.30" y2="149.23" stroke="#333" stroke-width="0.7"/>
<line x1="355.30" y1="144.09" x2="357.30" y2="144.09" stroke="#333" stroke-width="0.7"/>
<line x1="355.30" y1="138.94" x2="357.30" y2="138.94" stroke="#333" stroke-width="0.7"/>
<line x1="355.30" y1="133.80" x2="357.30" y2="133.80" stroke="#333" stroke-width="0.7"/>
<line x1="357.00" y1="237.20" x2="357.00" y2="239.00" stroke="#333" stroke-width="0.8"/>
<line x1="367.85" y1="237.20" x2="367.85" y2="238.40" stroke="#333" stroke-width="0.8"/>
<line x1="378.70" y1="237.20" x2="378.70" y2="239.00" stroke="#333" stroke-width="0.8"/>
<line x1="389.55" y1="237.20" x2="389.55" y2="238.40" stroke="#333" stroke-width="0.8"/>
<line x1="400.40" y1="237.20" x2="400.40" y2="239.00" stroke="#333" stroke-width="0.8"/>
<line x1="411.25" y1="237.20" x2="411.25" y2="238.40" stroke="#333" stroke-width="0.8"/>
<line x1="422.10" y1="237.20" x2="422.10" y2="239.00" stroke="#333" stroke-width="0.8"/>
<line x1="432.95" y1="237.20" x2="432.95" y2="238.40" stroke="#333" stroke-width="0.8"/>
<line x1="443.80" y1="237.20" x2="443.80" y2="239.00" stroke="#333" stroke-width="0.8"/>
<line x1="454.65" y1="237.20" x2="454.65" y2="238.40" stroke="#333" stroke-width="0.8"/>
<text x="357.00" y="246.00" font-size="8.3" text-anchor="middle">0</text>
<text x="378.70" y="246.00" font-size="8.3" text-anchor="middle">100</text>
<text x="400.40" y="246.00" font-size="8.3" text-anchor="middle">200</text>
<text x="422.10" y="246.00" font-size="8.3" text-anchor="middle">300</text>
<text x="443.80" y="246.00" font-size="8.3" text-anchor="middle">400</text>
<text x="383.10" y="256.80" font-size="8.4" textLength="38" lengthAdjust="spacingAndGlyphs">Time (sec)</text>
<text x="334.00" y="183.40" font-size="9.0" text-anchor="middle" textLength="40.4" lengthAdjust="spacingAndGlyphs" transform="rotate(-90 334.00 183.40)">[Ca<tspan dy="-2.4" font-size="5.2">2+</tspan><tspan dy="2.4">]i(nM)</tspan></text>
<path d="M357.00,216.55 L357.43,217.21 L357.87,216.22 L358.30,217.20 L358.74,216.98 L359.17,216.51 L359.60,216.67 L360.04,216.73 L360.47,216.62 L360.91,216.86 L361.34,217.05 L361.77,217.23 L362.21,217.37 L362.64,216.58 L363.08,216.54 L363.51,216.81 L363.94,216.57 L364.38,217.05 L364.81,217.17 L365.25,217.04 L365.68,216.44 L366.11,217.48 L366.55,216.91 L366.98,217.24 L367.42,216.60 L367.85,217.12 L368.28,217.16 L368.72,217.08 L369.15,216.92 L369.59,216.64 L370.02,217.17 L370.45,216.56 L370.89,217.48 L371.32,217.29 L371.76,217.51 L372.19,217.50 L372.62,216.69 L373.06,216.76 L373.49,217.44 L373.93,217.44 L374.36,217.17 L374.79,216.77 L375.23,216.69 L375.66,216.78 L376.10,216.99 L376.53,217.54 L376.96,217.24 L377.40,217.50 L377.83,217.10 L378.27,217.06 L378.70,217.52 L379.13,217.48 L379.57,216.84 L380.00,217.79 L380.44,216.86 L380.87,216.77 L381.30,216.72 L381.74,217.44 L382.17,217.25 L382.61,217.23 L383.04,217.19 L383.47,216.79 L383.91,217.17 L384.34,217.66 L384.78,216.99 L385.21,217.48 L385.64,217.35 L386.08,217.22 L386.51,218.13 L386.95,217.21 L387.38,217.36 L387.81,217.59 L388.25,217.57 L388.68,217.67 L389.12,218.02 L389.55,217.63 L389.98,218.26 L390.42,217.70 L390.85,217.55 L391.29,217.81 L391.72,217.68 L392.15,217.22 L392.59,217.32 L393.02,218.28 L393.46,217.49 L393.89,217.72 L394.32,218.44 L394.76,218.08 L395.19,218.26 L395.63,218.47 L396.06,217.92 L396.49,217.46 L396.93,218.23 L397.36,217.58 L397.80,217.81 L398.23,218.53 L398.66,217.65 L399.10,217.99 L399.53,217.61 L399.97,217.89 L400.40,217.88 L400.83,218.29 L401.27,217.63 L401.70,217.40 L402.14,217.40 L402.57,217.84 L403.00,217.37 L403.44,217.62 L403.87,215.84 L404.31,211.52 L404.74,207.07 L405.17,202.52 L405.61,198.16 L406.04,193.17 L406.48,188.17 L406.91,183.62 L407.34,179.01 L407.78,173.98 L408.21,169.66 L408.65,164.71 L409.08,162.16 L409.51,160.40 L409.95,158.48 L410.38,155.40 L410.82,156.27 L411.25,160.20 L411.68,163.70 L412.12,167.00 L412.55,170.31 L412.99,174.07 L413.42,177.63 L413.85,180.67 L414.29,183.25 L414.72,186.48 L415.16,187.66 L415.59,189.56 L416.02,191.12 L416.46,192.74 L416.89,194.02 L417.33,195.89 L417.76,197.64 L418.19,199.11 L418.63,199.84 L419.06,200.25 L419.50,201.59 L419.93,202.44 L420.36,202.72 L420.80,203.57 L421.23,204.01 L421.67,205.62 L422.10,205.99 L422.53,206.81 L422.97,208.07 L423.40,207.48 L423.84,208.75 L424.27,209.25 L424.70,209.12 L425.14,209.85 L425.57,209.62 L426.01,210.31 L426.44,210.92 L426.87,211.36 L427.31,210.87 L427.74,211.77 L428.18,211.48 L428.61,212.22 L429.04,211.98 L429.48,213.11 L429.91,213.39 L430.35,213.48 L430.78,212.91 L431.21,213.24 L431.65,213.70 L432.08,214.12 L432.52,213.50 L432.95,213.25 L433.38,213.82 L433.82,214.65 L434.25,214.72 L434.69,214.76 L435.12,214.76 L435.55,215.03 L435.99,215.12 L436.42,214.48 L436.86,214.29 L437.29,215.25 L437.72,214.32 L438.16,214.95 L438.59,214.57 L439.03,214.45 L439.46,214.44 L439.89,215.58 L440.33,215.27 L440.76,214.92 L441.20,214.52 L441.63,215.60 L442.06,215.37 L442.50,214.70 L442.93,215.63 L443.37,215.31 L443.80,215.40 L444.23,214.99 L444.67,214.71 L445.10,215.66 L445.54,214.98 L445.97,215.01 L446.40,214.88 L446.84,215.23 L447.27,214.77 L447.71,215.47 L448.14,215.40 L448.57,215.63 L449.01,214.95 L449.44,215.32 L449.88,215.58 L450.31,215.70 L450.74,215.02 L451.18,215.17 L451.61,215.04 L452.05,215.44 L452.48,215.31 L452.91,215.72 L453.35,215.04 L453.78,215.89 L454.22,215.34 L454.65,214.98" stroke="#3a9a3a" stroke-width="0.8" fill="none"/>
<path d="M357.00,216.52 L357.43,217.24 L357.87,217.08 L358.30,216.34 L358.74,216.59 L359.17,216.31 L359.60,216.33 L360.04,216.86 L360.47,216.31 L360.91,216.52 L361.34,217.03 L361.77,216.99 L362.21,217.36 L362.64,216.97 L363.08,216.29 L363.51,217.35 L363.94,216.78 L364.38,217.36 L364.81,217.40 L365.25,216.71 L365.68,217.22 L366.11,217.47 L366.55,217.35 L366.98,216.75 L367.42,216.83 L367.85,217.55 L368.28,217.28 L368.72,216.38 L369.15,217.31 L369.59,216.90 L370.02,217.08 L370.45,216.65 L370.89,216.87 L371.32,216.65 L371.76,216.97 L372.19,217.41 L372.62,217.43 L373.06,217.56 L373.49,216.65 L373.93,217.54 L374.36,217.65 L374.79,216.50 L375.23,217.45 L375.66,216.61 L376.10,217.61 L376.53,217.15 L376.96,217.46 L377.40,216.72 L377.83,216.99 L378.27,216.97 L378.70,216.83 L379.13,216.71 L379.57,217.38 L380.00,217.08 L380.44,217.30 L380.87,217.73 L381.30,216.86 L381.74,217.18 L382.17,216.92 L382.61,217.70 L383.04,217.31 L383.47,217.42 L383.91,217.11 L384.34,217.94 L384.78,217.63 L385.21,217.48 L385.64,218.01 L386.08,217.43 L386.51,217.23 L386.95,217.64 L387.38,217.38 L387.81,217.45 L388.25,217.95 L388.68,217.81 L389.12,217.03 L389.55,217.87 L389.98,217.77 L390.42,218.22 L390.85,218.07 L391.29,218.16 L391.72,217.23 L392.15,217.51 L392.59,217.34 L393.02,217.23 L393.46,217.71 L393.89,217.34 L394.32,217.85 L394.76,218.01 L395.19,217.38 L395.63,217.45 L396.06,217.42 L396.49,218.01 L396.93,217.68 L397.36,218.15 L397.80,217.44 L398.23,217.56 L398.66,218.35 L399.10,217.58 L399.53,218.53 L399.97,218.66 L400.40,217.90 L400.83,218.35 L401.27,217.99 L401.70,217.76 L402.14,218.42 L402.57,217.46 L403.00,217.96 L403.44,217.69 L403.87,215.55 L404.31,210.66 L404.74,206.25 L405.17,202.41 L405.61,198.23 L406.04,193.41 L406.48,188.53 L406.91,184.19 L407.34,179.35 L407.78,173.84 L408.21,169.17 L408.65,164.08 L409.08,162.19 L409.51,160.43 L409.95,159.17 L410.38,157.54 L410.82,155.47 L411.25,153.40 L411.68,156.15 L412.12,158.96 L412.55,162.01 L412.99,164.23 L413.42,168.23 L413.85,171.30 L414.29,174.07 L414.72,177.46 L415.16,181.38 L415.59,183.03 L416.02,183.90 L416.46,186.46 L416.89,187.88 L417.33,188.96 L417.76,190.53 L418.19,192.56 L418.63,194.28 L419.06,195.34 L419.50,195.57 L419.93,196.87 L420.36,197.16 L420.80,198.33 L421.23,199.01 L421.67,201.10 L422.10,201.85 L422.53,202.98 L422.97,203.39 L423.40,204.18 L423.84,204.94 L424.27,204.74 L424.70,205.71 L425.14,205.86 L425.57,206.35 L426.01,206.07 L426.44,206.96 L426.87,207.57 L427.31,208.25 L427.74,208.18 L428.18,208.35 L428.61,208.70 L429.04,208.64 L429.48,209.00 L429.91,209.93 L430.35,210.30 L430.78,209.76 L431.21,209.96 L431.65,210.54 L432.08,210.37 L432.52,210.95 L432.95,211.52 L433.38,211.89 L433.82,212.31 L434.25,211.77 L434.69,211.69 L435.12,211.91 L435.55,212.52 L435.99,212.33 L436.42,212.07 L436.86,212.27 L437.29,212.60 L437.72,212.89 L438.16,212.83 L438.59,213.32 L439.03,213.36 L439.46,212.81 L439.89,212.49 L440.33,213.10 L440.76,213.33 L441.20,213.46 L441.63,213.40 L442.06,213.03 L442.50,213.52 L442.93,212.96 L443.37,214.01 L443.80,213.88 L444.23,213.66 L444.67,213.83 L445.10,213.32 L445.54,213.38 L445.97,213.28 L446.40,213.71 L446.84,214.46 L447.27,213.82 L447.71,213.89 L448.14,214.00 L448.57,214.28 L449.01,213.79 L449.44,213.57 L449.88,214.60 L450.31,213.94 L450.74,214.34 L451.18,214.19 L451.61,213.75 L452.05,213.71 L452.48,214.13 L452.91,214.72 L453.35,213.86 L453.78,214.80 L454.22,214.58 L454.65,214.07" stroke="#222" stroke-width="0.8" fill="none"/>
<path d="M357.00,216.96 L357.43,217.03 L357.87,216.20 L358.30,216.21 L358.74,217.00 L359.17,216.91 L359.60,217.06 L360.04,217.25 L360.47,217.11 L360.91,216.22 L361.34,217.34 L361.77,217.16 L362.21,217.21 L362.64,217.36 L363.08,216.82 L363.51,216.56 L363.94,216.45 L364.38,216.72 L364.81,216.49 L365.25,217.50 L365.68,217.17 L366.11,216.34 L366.55,217.45 L366.98,217.21 L367.42,216.96 L367.85,217.23 L368.28,216.89 L368.72,217.52 L369.15,217.29 L369.59,216.41 L370.02,217.42 L370.45,216.49 L370.89,217.40 L371.32,216.40 L371.76,216.80 L372.19,216.84 L372.62,217.48 L373.06,217.59 L373.49,216.73 L373.93,217.46 L374.36,217.45 L374.79,216.68 L375.23,216.62 L375.66,217.65 L376.10,216.53 L376.53,217.06 L376.96,217.26 L377.40,217.61 L377.83,217.27 L378.27,216.54 L378.70,217.42 L379.13,217.62 L379.57,217.63 L380.00,217.67 L380.44,217.41 L380.87,216.74 L381.30,217.79 L381.74,217.67 L382.17,216.77 L382.61,216.72 L383.04,216.76 L383.47,217.69 L383.91,217.58 L384.34,216.86 L384.78,217.46 L385.21,217.21 L385.64,217.71 L386.08,218.09 L386.51,217.71 L386.95,217.23 L387.38,217.21 L387.81,217.50 L388.25,217.65 L388.68,217.58 L389.12,217.71 L389.55,217.62 L389.98,217.27 L390.42,218.07 L390.85,217.61 L391.29,217.21 L391.72,217.34 L392.15,218.18 L392.59,217.24 L393.02,217.41 L393.46,218.26 L393.89,218.16 L394.32,218.26 L394.76,218.46 L395.19,217.34 L395.63,218.06 L396.06,217.51 L396.49,218.47 L396.93,218.61 L397.36,217.58 L397.80,217.69 L398.23,217.47 L398.66,217.87 L399.10,218.09 L399.53,217.81 L399.97,218.66 L400.40,218.13 L400.83,218.17 L401.27,218.45 L401.70,217.81 L402.14,218.07 L402.57,217.76 L403.00,217.84 L403.44,217.83 L403.87,215.53 L404.31,210.83 L404.74,205.96 L405.17,201.61 L405.61,197.29 L406.04,192.75 L406.48,188.68 L406.91,183.08 L407.34,179.20 L407.78,174.63 L408.21,169.42 L408.65,164.38 L409.08,162.98 L409.51,160.72 L409.95,159.28 L410.38,156.55 L410.82,155.30 L411.25,153.38 L411.68,154.00 L412.12,154.26 L412.55,154.81 L412.99,156.06 L413.42,156.85 L413.85,157.32 L414.29,159.26 L414.72,160.07 L415.16,160.81 L415.59,162.16 L416.02,164.30 L416.46,164.58 L416.89,166.41 L417.33,166.93 L417.76,168.95 L418.19,169.76 L418.63,169.96 L419.06,170.16 L419.50,171.34 L419.93,171.42 L420.36,172.23 L420.80,173.28 L421.23,173.97 L421.67,174.34 L422.10,175.08 L422.53,175.43 L422.97,175.39 L423.40,175.42 L423.84,176.09 L424.27,176.94 L424.70,177.16 L425.14,177.28 L425.57,177.29 L426.01,178.18 L426.44,178.56 L426.87,178.50 L427.31,178.78 L427.74,179.33 L428.18,178.93 L428.61,178.69 L429.04,179.40 L429.48,179.39 L429.91,179.51 L430.35,179.73 L430.78,179.87 L431.21,180.69 L431.65,180.62 L432.08,181.55 L432.52,180.84 L432.95,181.70 L433.38,181.67 L433.82,181.24 L434.25,182.08 L434.69,182.29 L435.12,181.60 L435.55,181.97 L435.99,182.69 L436.42,182.85 L436.86,182.54 L437.29,183.06 L437.72,182.13 L438.16,183.02 L438.59,183.00 L439.03,182.95 L439.46,182.89 L439.89,183.08 L440.33,182.93 L440.76,182.98 L441.20,183.34 L441.63,183.85 L442.06,182.86 L442.50,183.30 L442.93,184.14 L443.37,183.79 L443.80,183.50 L444.23,183.26 L444.67,184.46 L445.10,184.59 L445.54,184.06 L445.97,184.19 L446.40,183.67 L446.84,183.81 L447.27,184.48 L447.71,184.43 L448.14,184.28 L448.57,183.97 L449.01,184.87 L449.44,184.69 L449.88,185.12 L450.31,184.50 L450.74,185.32 L451.18,184.25 L451.61,184.82 L452.05,184.81 L452.48,185.47 L452.91,185.35 L453.35,185.12 L453.78,184.69 L454.22,185.14 L454.65,185.52" stroke="#4a4ad0" stroke-width="0.8" fill="none"/>
<path d="M357.00,216.44 L357.43,216.65 L357.87,216.74 L358.30,216.95 L358.74,216.89 L359.17,216.53 L359.60,217.01 L360.04,216.78 L360.47,216.73 L360.91,216.90 L361.34,216.65 L361.77,216.57 L362.21,216.62 L362.64,216.70 L363.08,217.04 L363.51,217.13 L363.94,216.91 L364.38,216.99 L364.81,217.07 L365.25,216.66 L365.68,217.08 L366.11,216.71 L366.55,216.65 L366.98,217.16 L367.42,216.68 L367.85,217.01 L368.28,217.13 L368.72,217.15 L369.15,217.25 L369.59,216.98 L370.02,217.06 L370.45,216.78 L370.89,216.80 L371.32,217.28 L371.76,217.08 L372.19,217.09 L372.62,217.23 L373.06,217.20 L373.49,217.20 L373.93,216.94 L374.36,217.17 L374.79,217.31 L375.23,217.26 L375.66,217.13 L376.10,217.06 L376.53,217.26 L376.96,216.99 L377.40,217.30 L377.83,217.03 L378.27,217.07 L378.70,217.35 L379.13,217.01 L379.57,217.24 L380.00,217.16 L380.44,217.14 L380.87,217.13 L381.30,217.26 L381.74,217.51 L382.17,217.07 L382.61,217.04 L383.04,217.28 L383.47,217.24 L383.91,217.44 L384.34,217.06 L384.78,217.21 L385.21,217.51 L385.64,217.15 L386.08,217.06 L386.51,217.47 L386.95,217.08 L387.38,217.41 L387.81,217.61 L388.25,217.29 L388.68,217.53 L389.12,217.30 L389.55,217.41 L389.98,217.71 L390.42,217.47 L390.85,217.28 L391.29,217.52 L391.72,217.50 L392.15,217.31 L392.59,217.58 L393.02,217.56 L393.46,217.52 L393.89,217.38 L394.32,217.78 L394.76,217.86 L395.19,217.46 L395.63,217.60 L396.06,217.76 L396.49,217.41 L396.93,217.43 L397.36,217.65 L397.80,217.39 L398.23,217.50 L398.66,217.56 L399.10,217.86 L399.53,218.04 L399.97,217.64 L400.40,217.62 L400.83,217.80 L401.27,217.67 L401.70,217.56 L402.14,217.70 L402.57,217.37 L403.00,217.40 L403.44,217.45 L403.87,217.47 L404.31,216.95 L404.74,216.85 L405.17,216.35 L405.61,216.45 L406.04,216.06 L406.48,215.94 L406.91,215.56 L407.34,215.21 L407.78,215.25 L408.21,215.18 L408.65,214.95 L409.08,215.15 L409.51,215.00 L409.95,215.24 L410.38,215.31 L410.82,215.08 L411.25,214.87 L411.68,214.94 L412.12,215.19 L412.55,215.29 L412.99,215.53 L413.42,215.43 L413.85,215.48 L414.29,215.17 L414.72,215.75 L415.16,215.31 L415.59,215.67 L416.02,215.77 L416.46,215.95 L416.89,215.59 L417.33,216.14 L417.76,215.97 L418.19,216.08 L418.63,216.35 L419.06,216.40 L419.50,216.01 L419.93,216.20 L420.36,216.31 L420.80,216.27 L421.23,216.84 L421.67,216.54 L422.10,216.58 L422.53,216.93 L422.97,216.81 L423.40,216.52 L423.84,216.94 L424.27,216.70 L424.70,217.09 L425.14,216.81 L425.57,217.08 L426.01,216.95 L426.44,217.06 L426.87,216.78 L427.31,216.88 L427.74,217.06 L428.18,216.97 L428.61,217.15 L429.04,216.94 L429.48,217.31 L429.91,217.15 L430.35,217.15 L430.78,217.30 L431.21,217.54 L431.65,217.48 L432.08,217.22 L432.52,217.51 L432.95,217.20 L433.38,217.35 L433.82,217.08 L434.25,217.14 L434.69,217.21 L435.12,217.43 L435.55,217.64 L435.99,217.32 L436.42,217.20 L436.86,217.09 L437.29,217.54 L437.72,217.57 L438.16,217.06 L438.59,217.21 L439.03,217.36 L439.46,217.21 L439.89,217.57 L440.33,217.33 L440.76,217.25 L441.20,217.29 L441.63,217.56 L442.06,217.58 L442.50,217.28 L442.93,217.12 L443.37,217.58 L443.80,217.66 L444.23,217.62 L444.67,217.20 L445.10,217.45 L445.54,217.42 L445.97,217.09 L446.40,217.34 L446.84,217.56 L447.27,217.30 L447.71,217.74 L448.14,217.57 L448.57,217.32 L449.01,217.66 L449.44,217.75 L449.88,217.46 L450.31,217.58 L450.74,217.20 L451.18,217.74 L451.61,217.32 L452.05,217.58 L452.48,217.33 L452.91,217.56 L453.35,217.43 L453.78,217.65 L454.22,217.72 L454.65,217.59" stroke="#d85030" stroke-width="0.8" fill="none"/>
<text x="388.80" y="198.30" font-size="8.2" textLength="9.7" lengthAdjust="spacingAndGlyphs">XL</text>
<line x1="396.00" y1="206.00" x2="400.74" y2="212.50" stroke="#000" stroke-width="1.15"/>
<path d="M403.00,215.60 L402.03,210.36 L398.31,213.08 Z" fill="#000"/>
<text x="437.50" y="168.00" font-size="8.2" textLength="27" lengthAdjust="spacingAndGlyphs">Fc<tspan font-family="Liberation Serif">γ</tspan>RIIa</text>
<line x1="442.50" y1="171.20" x2="437.81" y2="177.43" stroke="#000" stroke-width="1.15"/>
<path d="M435.50,180.50 L440.23,178.05 L436.55,175.28 Z" fill="#000"/>
<text x="462.50" y="190.00" font-size="8.2" textLength="20" lengthAdjust="spacingAndGlyphs">Fc<tspan font-family="Liberation Serif">γ</tspan>RI</text>
<line x1="462.70" y1="193.80" x2="432.14" y2="204.17" stroke="#000" stroke-width="1.15"/>
<path d="M428.50,205.40 L433.79,206.04 L432.31,201.68 Z" fill="#000"/>
<text x="448.00" y="209.70" font-size="8.2" textLength="59.5" lengthAdjust="spacingAndGlyphs">Fc<tspan font-family="Liberation Serif">γ</tspan>RI + U73122</text>
<line x1="446.20" y1="206.90" x2="437.28" y2="211.07" stroke="#000" stroke-width="1.15"/>
<path d="M433.80,212.70 L439.12,212.75 L437.17,208.58 Z" fill="#000"/>
<text x="438.70" y="235.50" font-size="8.2" textLength="67.5" lengthAdjust="spacingAndGlyphs">Fc<tspan font-family="Liberation Serif">γ</tspan>RIIa + U73122</text>
<line x1="437.50" y1="226.20" x2="431.76" y2="221.83" stroke="#000" stroke-width="1.15"/>
<path d="M428.70,219.50 L431.12,224.24 L433.91,220.57 Z" fill="#000"/>
<line x1="63.10" y1="326.60" x2="63.10" y2="402.70" stroke="#8c8c8c" stroke-width="0.9"/>
<line x1="63.10" y1="402.70" x2="169.70" y2="402.70" stroke="#8c8c8c" stroke-width="0.9"/>
<line x1="60.90" y1="402.70" x2="63.10" y2="402.70" stroke="#8c8c8c" stroke-width="0.9"/>
<text x="53.50" y="406.40" font-size="10.2" text-anchor="end" fill="#262626">0</text>
<line x1="60.90" y1="377.33" x2="63.10" y2="377.33" stroke="#8c8c8c" stroke-width="0.9"/>
<text x="53.50" y="381.03" font-size="10.2" text-anchor="end" fill="#262626">5</text>
<line x1="60.90" y1="351.97" x2="63.10" y2="351.97" stroke="#8c8c8c" stroke-width="0.9"/>
<text x="53.50" y="355.67" font-size="10.2" text-anchor="end" fill="#262626">10</text>
<line x1="60.90" y1="326.60" x2="63.10" y2="326.60" stroke="#8c8c8c" stroke-width="0.9"/>
<text x="53.50" y="330.30" font-size="10.2" text-anchor="end" fill="#262626">15</text>
<line x1="63.30" y1="402.70" x2="63.30" y2="405.30" stroke="#8c8c8c" stroke-width="0.9"/>
<line x1="89.80" y1="402.70" x2="89.80" y2="405.30" stroke="#8c8c8c" stroke-width="0.9"/>
<line x1="116.80" y1="402.70" x2="116.80" y2="405.30" stroke="#8c8c8c" stroke-width="0.9"/>
<line x1="143.20" y1="402.70" x2="143.20" y2="405.30" stroke="#8c8c8c" stroke-width="0.9"/>
<line x1="169.70" y1="402.70" x2="169.70" y2="405.30" stroke="#8c8c8c" stroke-width="0.9"/>
<rect x="71.20" y="397.63" width="12.00" height="5.07" fill="#000"/>
<rect x="97.70" y="352.98" width="12.00" height="49.72" fill="#000"/>
<line x1="103.70" y1="352.98" x2="103.70" y2="340.81" stroke="#000" stroke-width="1"/>
<line x1="101.30" y1="340.81" x2="106.10" y2="340.81" stroke="#000" stroke-width="1.5"/>
<rect x="124.20" y="380.38" width="12.00" height="22.32" fill="#000"/>
<line x1="130.20" y1="380.38" x2="130.20" y2="372.26" stroke="#000" stroke-width="1"/>
<line x1="127.80" y1="372.26" x2="132.60" y2="372.26" stroke="#000" stroke-width="1.5"/>
<rect x="150.80" y="350.95" width="12.20" height="51.75" fill="#000"/>
<line x1="156.90" y1="350.95" x2="156.90" y2="333.70" stroke="#000" stroke-width="1"/>
<line x1="154.50" y1="333.70" x2="159.30" y2="333.70" stroke="#000" stroke-width="1.5"/>
<line x1="233.10" y1="320.60" x2="233.10" y2="402.60" stroke="#8c8c8c" stroke-width="0.9"/>
<line x1="233.10" y1="402.60" x2="333.50" y2="402.60" stroke="#8c8c8c" stroke-width="0.9"/>
<line x1="230.90" y1="402.60" x2="233.10" y2="402.60" stroke="#8c8c8c" stroke-width="0.9"/>
<text x="223.50" y="406.30" font-size="10.2" text-anchor="end" fill="#262626">0</text>
<line x1="230.90" y1="388.93" x2="233.10" y2="388.93" stroke="#8c8c8c" stroke-width="0.9"/>
<text x="223.50" y="392.63" font-size="10.2" text-anchor="end" fill="#262626">5</text>
<line x1="230.90" y1="375.27" x2="233.10" y2="375.27" stroke="#8c8c8c" stroke-width="0.9"/>
<text x="223.50" y="378.97" font-size="10.2" text-anchor="end" fill="#262626">10</text>
<line x1="230.90" y1="361.60" x2="233.10" y2="361.60" stroke="#8c8c8c" stroke-width="0.9"/>
<text x="223.50" y="365.30" font-size="10.2" text-anchor="end" fill="#262626">15</text>
<line x1="230.90" y1="347.93" x2="233.10" y2="347.93" stroke="#8c8c8c" stroke-width="0.9"/>
<text x="223.50" y="351.63" font-size="10.2" text-anchor="end" fill="#262626">20</text>
<line x1="230.90" y1="334.27" x2="233.10" y2="334.27" stroke="#8c8c8c" stroke-width="0.9"/>
<text x="223.50" y="337.97" font-size="10.2" text-anchor="end" fill="#262626">25</text>
<line x1="230.90" y1="320.60" x2="233.10" y2="320.60" stroke="#8c8c8c" stroke-width="0.9"/>
<text x="223.50" y="324.30" font-size="10.2" text-anchor="end" fill="#262626">30</text>
<line x1="233.80" y1="402.60" x2="233.80" y2="405.20" stroke="#8c8c8c" stroke-width="0.9"/>
<line x1="258.50" y1="402.60" x2="258.50" y2="405.20" stroke="#8c8c8c" stroke-width="0.9"/>
<line x1="283.80" y1="402.60" x2="283.80" y2="405.20" stroke="#8c8c8c" stroke-width="0.9"/>
<line x1="308.50" y1="402.60" x2="308.50" y2="405.20" stroke="#8c8c8c" stroke-width="0.9"/>
<line x1="333.50" y1="402.60" x2="333.50" y2="405.20" stroke="#8c8c8c" stroke-width="0.9"/>
<rect x="240.70" y="399.87" width="10.10" height="2.73" fill="#000"/>
<rect x="265.40" y="370.35" width="10.40" height="32.25" fill="#000"/>
<line x1="270.60" y1="370.35" x2="270.60" y2="363.24" stroke="#000" stroke-width="1"/>
<line x1="268.20" y1="363.24" x2="273.00" y2="363.24" stroke="#000" stroke-width="1.5"/>
<rect x="289.60" y="391.12" width="10.40" height="11.48" fill="#000"/>
<line x1="294.80" y1="391.12" x2="294.80" y2="389.75" stroke="#000" stroke-width="1"/>
<line x1="292.40" y1="389.75" x2="297.20" y2="389.75" stroke="#000" stroke-width="1.5"/>
<rect x="314.50" y="356.13" width="10.90" height="46.47" fill="#000"/>
<line x1="319.95" y1="356.13" x2="319.95" y2="332.63" stroke="#000" stroke-width="1"/>
<line x1="317.55" y1="332.63" x2="322.35" y2="332.63" stroke="#000" stroke-width="1.5"/>
<line x1="65.30" y1="485.30" x2="65.30" y2="572.50" stroke="#8c8c8c" stroke-width="0.9"/>
<line x1="65.30" y1="572.50" x2="171.50" y2="572.50" stroke="#8c8c8c" stroke-width="0.9"/>
<line x1="63.10" y1="572.50" x2="65.30" y2="572.50" stroke="#8c8c8c" stroke-width="0.9"/>
<text x="55.50" y="576.20" font-size="10.2" text-anchor="end" fill="#262626">0</text>
<line x1="63.10" y1="557.97" x2="65.30" y2="557.97" stroke="#8c8c8c" stroke-width="0.9"/>
<text x="55.50" y="561.67" font-size="10.2" text-anchor="end" fill="#262626">1</text>
<line x1="63.10" y1="543.43" x2="65.30" y2="543.43" stroke="#8c8c8c" stroke-width="0.9"/>
<text x="55.50" y="547.13" font-size="10.2" text-anchor="end" fill="#262626">2</text>
<line x1="63.10" y1="528.90" x2="65.30" y2="528.90" stroke="#8c8c8c" stroke-width="0.9"/>
<text x="55.50" y="532.60" font-size="10.2" text-anchor="end" fill="#262626">3</text>
<line x1="63.10" y1="514.37" x2="65.30" y2="514.37" stroke="#8c8c8c" stroke-width="0.9"/>
<text x="55.50" y="518.07" font-size="10.2" text-anchor="end" fill="#262626">4</text>
<line x1="63.10" y1="499.83" x2="65.30" y2="499.83" stroke="#8c8c8c" stroke-width="0.9"/>
<text x="55.50" y="503.53" font-size="10.2" text-anchor="end" fill="#262626">5</text>
<line x1="63.10" y1="485.30" x2="65.30" y2="485.30" stroke="#8c8c8c" stroke-width="0.9"/>
<text x="55.50" y="489.00" font-size="10.2" text-anchor="end" fill="#262626">6</text>
<line x1="65.40" y1="572.50" x2="65.40" y2="575.10" stroke="#8c8c8c" stroke-width="0.9"/>
<line x1="90.80" y1="572.50" x2="90.80" y2="575.10" stroke="#8c8c8c" stroke-width="0.9"/>
<line x1="116.20" y1="572.50" x2="116.20" y2="575.10" stroke="#8c8c8c" stroke-width="0.9"/>
<line x1="142.00" y1="572.50" x2="142.00" y2="575.10" stroke="#8c8c8c" stroke-width="0.9"/>
<line x1="170.00" y1="572.50" x2="170.00" y2="575.10" stroke="#8c8c8c" stroke-width="0.9"/>
<rect x="73.00" y="557.97" width="10.40" height="14.53" fill="#000"/>
<rect x="98.20" y="526.72" width="10.60" height="45.78" fill="#000"/>
<line x1="103.50" y1="526.72" x2="103.50" y2="519.45" stroke="#000" stroke-width="1"/>
<line x1="101.10" y1="519.45" x2="105.90" y2="519.45" stroke="#000" stroke-width="1.5"/>
<rect x="123.10" y="543.43" width="10.80" height="29.07" fill="#000"/>
<line x1="128.50" y1="543.43" x2="128.50" y2="540.53" stroke="#000" stroke-width="1"/>
<line x1="126.10" y1="540.53" x2="130.90" y2="540.53" stroke="#000" stroke-width="1.5"/>
<rect x="148.50" y="499.11" width="10.80" height="73.39" fill="#000"/>
<line x1="153.90" y1="499.11" x2="153.90" y2="495.47" stroke="#000" stroke-width="1"/>
<line x1="151.50" y1="495.47" x2="156.30" y2="495.47" stroke="#000" stroke-width="1.5"/>
<line x1="233.40" y1="483.70" x2="233.40" y2="569.70" stroke="#8c8c8c" stroke-width="0.9"/>
<line x1="233.40" y1="569.70" x2="337.00" y2="569.70" stroke="#8c8c8c" stroke-width="0.9"/>
<line x1="231.20" y1="569.70" x2="233.40" y2="569.70" stroke="#8c8c8c" stroke-width="0.9"/>
<text x="224.50" y="573.40" font-size="10.2" text-anchor="end" fill="#262626">0</text>
<line x1="231.20" y1="557.41" x2="233.40" y2="557.41" stroke="#8c8c8c" stroke-width="0.9"/>
<text x="224.50" y="561.11" font-size="10.2" text-anchor="end" fill="#262626">1</text>
<line x1="231.20" y1="545.13" x2="233.40" y2="545.13" stroke="#8c8c8c" stroke-width="0.9"/>
<text x="224.50" y="548.83" font-size="10.2" text-anchor="end" fill="#262626">2</text>
<line x1="231.20" y1="532.84" x2="233.40" y2="532.84" stroke="#8c8c8c" stroke-width="0.9"/>
<text x="224.50" y="536.54" font-size="10.2" text-anchor="end" fill="#262626">3</text>
<line x1="231.20" y1="520.56" x2="233.40" y2="520.56" stroke="#8c8c8c" stroke-width="0.9"/>
<text x="224.50" y="524.26" font-size="10.2" text-anchor="end" fill="#262626">4</text>
<line x1="231.20" y1="508.27" x2="233.40" y2="508.27" stroke="#8c8c8c" stroke-width="0.9"/>
<text x="224.50" y="511.97" font-size="10.2" text-anchor="end" fill="#262626">5</text>
<line x1="231.20" y1="495.99" x2="233.40" y2="495.99" stroke="#8c8c8c" stroke-width="0.9"/>
<text x="224.50" y="499.69" font-size="10.2" text-anchor="end" fill="#262626">6</text>
<line x1="231.20" y1="483.70" x2="233.40" y2="483.70" stroke="#8c8c8c" stroke-width="0.9"/>
<text x="224.50" y="487.40" font-size="10.2" text-anchor="end" fill="#262626">7</text>
<line x1="233.50" y1="569.70" x2="233.50" y2="572.30" stroke="#8c8c8c" stroke-width="0.9"/>
<line x1="259.60" y1="569.70" x2="259.60" y2="572.30" stroke="#8c8c8c" stroke-width="0.9"/>
<line x1="285.50" y1="569.70" x2="285.50" y2="572.30" stroke="#8c8c8c" stroke-width="0.9"/>
<line x1="310.90" y1="569.70" x2="310.90" y2="572.30" stroke="#8c8c8c" stroke-width="0.9"/>
<line x1="337.00" y1="569.70" x2="337.00" y2="572.30" stroke="#8c8c8c" stroke-width="0.9"/>
<rect x="241.20" y="557.41" width="10.80" height="12.29" fill="#000"/>
<rect x="266.50" y="503.36" width="11.10" height="66.34" fill="#000"/>
<line x1="272.05" y1="503.36" x2="272.05" y2="496.60" stroke="#000" stroke-width="1"/>
<line x1="269.65" y1="496.60" x2="274.45" y2="496.60" stroke="#000" stroke-width="1.5"/>
<rect x="292.40" y="536.53" width="10.60" height="33.17" fill="#000"/>
<line x1="297.70" y1="536.53" x2="297.70" y2="521.79" stroke="#000" stroke-width="1"/>
<line x1="295.30" y1="521.79" x2="300.10" y2="521.79" stroke="#000" stroke-width="1.5"/>
<rect x="317.80" y="539.23" width="11.10" height="30.47" fill="#000"/>
<line x1="323.35" y1="539.23" x2="323.35" y2="532.23" stroke="#000" stroke-width="1"/>
<line x1="320.95" y1="532.23" x2="325.75" y2="532.23" stroke="#000" stroke-width="1.5"/>
<text x="6.40" y="304.70" font-size="11.5" font-weight="bold">i</text>
<text x="186.60" y="301.50" font-size="12.5" font-weight="bold">ii</text>
<text x="4.00" y="476.30" font-size="13.5" font-weight="bold" textLength="11" lengthAdjust="spacingAndGlyphs">iii</text>
<text x="183.60" y="476.20" font-size="12.5" font-weight="bold">iv</text>
<text x="50.00" y="306.50" font-size="10.6" textLength="118.7" lengthAdjust="spacingAndGlyphs">MEK1 phosphorylation</text>
<text x="80.50" y="318.60" font-size="10.6" textLength="59" lengthAdjust="spacingAndGlyphs">after 10min</text>
<text x="218.30" y="305.10" font-size="10.6" textLength="120.2" lengthAdjust="spacingAndGlyphs">Erk1/2 phosphorylation</text>
<text x="248.40" y="317.30" font-size="10.6" textLength="58.2" lengthAdjust="spacingAndGlyphs">after 10min</text>
<text x="22.00" y="351.35" font-size="11.6" text-anchor="middle" font-weight="bold" textLength="88" lengthAdjust="spacingAndGlyphs" transform="rotate(-90 22.00 351.35)">Fold change over</text>
<text x="34.00" y="352.10" font-size="11.6" text-anchor="middle" font-weight="bold" textLength="67" lengthAdjust="spacingAndGlyphs" transform="rotate(-90 34.00 352.10)">unstimulated</text>
<text x="192.00" y="357.30" font-size="11.6" text-anchor="middle" font-weight="bold" textLength="88" lengthAdjust="spacingAndGlyphs" transform="rotate(-90 192.00 357.30)">Fold change over</text>
<text x="203.70" y="357.50" font-size="11.6" text-anchor="middle" font-weight="bold" textLength="67" lengthAdjust="spacingAndGlyphs" transform="rotate(-90 203.70 357.50)">unstimulated</text>
<text x="23.50" y="533.80" font-size="11.6" text-anchor="middle" font-weight="bold" textLength="88" lengthAdjust="spacingAndGlyphs" transform="rotate(-90 23.50 533.80)">Fold change over</text>
<text x="35.30" y="533.50" font-size="11.6" text-anchor="middle" font-weight="bold" textLength="67" lengthAdjust="spacingAndGlyphs" transform="rotate(-90 35.30 533.50)">unstimulated</text>
<text x="191.80" y="529.40" font-size="11.6" text-anchor="middle" font-weight="bold" textLength="88" lengthAdjust="spacingAndGlyphs" transform="rotate(-90 191.80 529.40)">Fold change over</text>
<text x="203.30" y="529.00" font-size="11.6" text-anchor="middle" font-weight="bold" textLength="67" lengthAdjust="spacingAndGlyphs" transform="rotate(-90 203.30 529.00)">unstimulated</text>
<text x="80.40" y="420.39" font-size="9.9" text-anchor="end" transform="rotate(-51 80.40 420.39)">Basal</text>
<text x="105.30" y="418.79" font-size="9.9" text-anchor="end" transform="rotate(-51 105.30 418.79)">XL-Fc<tspan font-family="Liberation Serif">γ</tspan>RI</text>
<text x="131.20" y="419.09" font-size="9.9" text-anchor="end" transform="rotate(-51 131.20 419.09)">XL-Fc<tspan font-family="Liberation Serif">γ</tspan>RIIa</text>
<text x="154.20" y="418.79" font-size="9.9" text-anchor="end" transform="rotate(-51 154.20 418.79)">XL-Fc<tspan font-family="Liberation Serif">γ</tspan>RI</text>
<text x="163.50" y="426.09" font-size="9.9" text-anchor="end" transform="rotate(-51 163.50 426.09)">+Fc<tspan font-family="Liberation Serif">γ</tspan>RIIa</text>
<text x="241.60" y="420.69" font-size="9.9" text-anchor="end" transform="rotate(-51 241.60 420.69)">Basal</text>
<text x="264.70" y="418.39" font-size="9.9" text-anchor="end" transform="rotate(-51 264.70 418.39)">XL-Fc<tspan font-family="Liberation Serif">γ</tspan>RI</text>
<text x="291.90" y="418.39" font-size="9.9" text-anchor="end" transform="rotate(-51 291.90 418.39)">XL-Fc<tspan font-family="Liberation Serif">γ</tspan>RIIa</text>
<text x="313.20" y="418.39" font-size="9.9" text-anchor="end" transform="rotate(-51 313.20 418.39)">XL-Fc<tspan font-family="Liberation Serif">γ</tspan>RI</text>
<text x="323.10" y="426.09" font-size="9.9" text-anchor="end" transform="rotate(-51 323.10 426.09)">+Fc<tspan font-family="Liberation Serif">γ</tspan>RIIa</text>
<text x="77.60" y="584.29" font-size="9.9" text-anchor="end" transform="rotate(-51 77.60 584.29)">Basal</text>
<text x="100.00" y="583.09" font-size="9.9" text-anchor="end" transform="rotate(-51 100.00 583.09)">XL-Fc<tspan font-family="Liberation Serif">γ</tspan>RI</text>
<text x="128.40" y="583.09" font-size="9.9" text-anchor="end" transform="rotate(-51 128.40 583.09)">XL-Fc<tspan font-family="Liberation Serif">γ</tspan>RIIa</text>
<text x="149.20" y="583.09" font-size="9.9" text-anchor="end" transform="rotate(-51 149.20 583.09)">XL-Fc<tspan font-family="Liberation Serif">γ</tspan>RI</text>
<text x="160.00" y="589.99" font-size="9.9" text-anchor="end" transform="rotate(-51 160.00 589.99)">+Fc<tspan font-family="Liberation Serif">γ</tspan>RIIa</text>
<text x="243.50" y="577.79" font-size="9.9" text-anchor="end" transform="rotate(-51 243.50 577.79)">Basal</text>
<text x="274.60" y="577.79" font-size="9.9" text-anchor="end" transform="rotate(-51 274.60 577.79)">XL-Fc<tspan font-family="Liberation Serif">γ</tspan>RI</text>
<text x="302.30" y="578.49" font-size="9.9" text-anchor="end" transform="rotate(-51 302.30 578.49)">XL-Fc<tspan font-family="Liberation Serif">γ</tspan>RIIa</text>
<text x="331.20" y="578.49" font-size="9.9" text-anchor="end" transform="rotate(-51 331.20 578.49)">XL-Fc<tspan font-family="Liberation Serif">γ</tspan>RI</text>
<text x="340.40" y="586.59" font-size="9.9" text-anchor="end" transform="rotate(-51 340.40 586.59)">+Fc<tspan font-family="Liberation Serif">γ</tspan>RIIa</text>
<path d="M340.8,304.4 Q346.4,304.4 346.4,312.4 L346.4,372.2 Q346.4,378.2 350.9,378.2 Q346.4,378.2 346.4,384.2 L346.4,444 Q346.4,452 340.8,452" stroke="#333" stroke-width="1" fill="none"/>
<path d="M344,469.2 Q347.4,469.2 347.4,477.2 L347.4,536.8 Q347.4,542.8 350.7,542.8 Q347.4,542.8 347.4,548.8 L347.4,608.4 Q347.4,616.4 344,616.4" stroke="#333" stroke-width="1" fill="none"/>
<text x="354.80" y="374.80" font-size="12.5" textLength="72" lengthAdjust="spacingAndGlyphs">IFN-<tspan font-family="Liberation Serif">γ</tspan> treated</text>
<text x="376.80" y="390.50" font-size="12.5" textLength="28.1" lengthAdjust="spacingAndGlyphs">U937</text>
<text x="353.70" y="538.60" font-size="12.5" textLength="79.7" lengthAdjust="spacingAndGlyphs">CD14<tspan dy="-4" font-size="7">+</tspan><tspan dy="4"> Human</tspan></text>
<text x="363.60" y="554.30" font-size="12.5" textLength="59.6" lengthAdjust="spacingAndGlyphs">Monocytes</text>
</svg></body></html>
